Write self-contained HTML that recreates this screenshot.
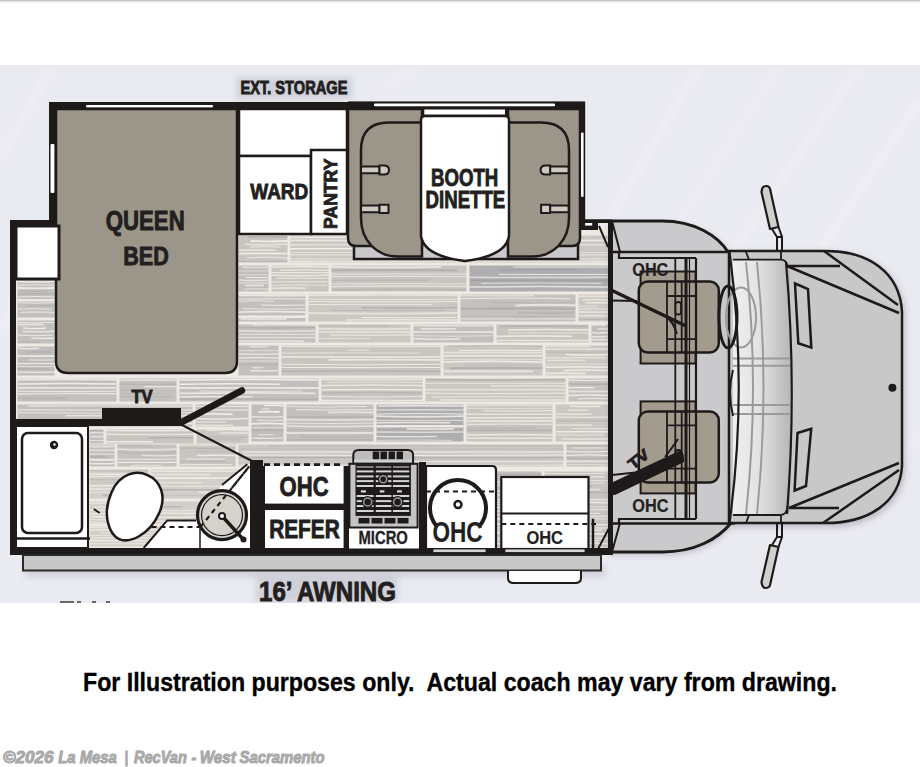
<!DOCTYPE html>
<html><head><meta charset="utf-8">
<style>
html,body{margin:0;padding:0;background:#fff;width:920px;height:767px;overflow:hidden}
svg{display:block}
text{font-family:"Liberation Sans",sans-serif;font-weight:bold}
.wm text{font-size:17px;font-style:italic;fill:#aaaaaa;stroke:#9c9c9c;stroke-width:0.9;paint-order:stroke}
.lb{fill:#231f20;stroke:#231f20;stroke-width:0.9;paint-order:stroke}
</style></head>
<body>
<svg width="920" height="767" viewBox="0 0 920 767">
<defs>
  <filter id="grain" x="0" y="0" width="100%" height="100%">
    <feTurbulence type="fractalNoise" baseFrequency="0.004 0.22" numOctaves="3" seed="7" result="n"/>
    <feColorMatrix in="n" type="matrix" values="0 0 0 0 0.78  0 0 0 0 0.76  0 0 0 0 0.74  2.2 0 0 0 -0.9" result="c"/>
    <feComposite in="c" in2="SourceGraphic" operator="in"/>
  </filter>
  <filter id="sh" x="-5%" y="-5%" width="110%" height="110%">
    <feGaussianBlur stdDeviation="4"/>
  </filter>
  <filter id="ds" x="-10%" y="-10%" width="120%" height="130%">
    <feDropShadow dx="2" dy="3" stdDeviation="3" flood-color="#505060" flood-opacity="0.3"/>
  </filter>
  <filter id="bl3" x="-20%" y="-50%" width="140%" height="200%">
    <feGaussianBlur stdDeviation="3"/>
  </filter>
</defs>

<!-- top grey line -->
<rect x="0" y="0" width="920" height="1" fill="#c4c4c4"/><rect x="0" y="1" width="920" height="1.5" fill="#e8e8e8"/>
<!-- lavender background -->
<rect x="0" y="65" width="920" height="538" fill="#eaeaf1"/>
<g stroke="#ffffff" fill="none" filter="url(#bl3)" opacity="0.2">
  <path d="M560 300 L700 65" stroke-width="7"/>
  <path d="M610 330 L780 65" stroke-width="4"/>
  <path d="M700 300 L860 65" stroke-width="6"/>
  <path d="M820 250 L920 100" stroke-width="8"/>
  <path d="M860 520 L920 430" stroke-width="6"/>
  <path d="M0 330 L60 230" stroke-width="8"/>
  <path d="M0 160 L50 70" stroke-width="6"/>
  <path d="M380 90 L420 65" stroke-width="5"/>
</g>
<!-- soft shadows -->
<g fill="#9090a0" opacity="0.28" filter="url(#bl3)">
  <rect x="236" y="77" width="116" height="22"/>
  <rect x="25" y="565" width="580" height="12"/>
  <rect x="256" y="577" width="142" height="25"/>
</g>

<!-- ===== FLOOR ===== -->
<g id="floor">
  <rect x="16" y="226" width="594" height="323" fill="#eee9e2"/>
<rect x="17.5" y="280.5" width="37.0" height="37.0" fill="#c2c0bf"/>
<path d="M17.5 281.4 Q36.0 282.4 54.5 281.4" stroke="#f0ece6" stroke-width="1.5" opacity="0.98" fill="none"/>
<path d="M17.5 285.1 Q36.0 284.4 54.5 285.1" stroke="#f0ece6" stroke-width="1.2" opacity="0.81" fill="none"/>
<path d="M17.5 288.0 Q36.0 288.9 54.5 288.0" stroke="#f0ece6" stroke-width="1.8" opacity="0.93" fill="none"/>
<path d="M17.5 291.3 Q33.1 291.6 48.7 291.3" stroke="#8e8c8c" stroke-width="1.2" opacity="0.19" fill="none"/>
<path d="M17.5 294.0 Q36.0 293.0 54.5 294.0" stroke="#8e8c8c" stroke-width="1.2" opacity="0.37" fill="none"/>
<path d="M17.5 296.9 Q36.0 296.1 54.5 296.9" stroke="#f0ece6" stroke-width="1.0" opacity="0.90" fill="none"/>
<path d="M17.9 299.8 Q36.2 300.5 54.5 299.8" stroke="#f0ece6" stroke-width="1.2" opacity="0.99" fill="none"/>
<path d="M17.5 302.8 Q36.0 303.6 54.5 302.8" stroke="#f0ece6" stroke-width="1.0" opacity="0.90" fill="none"/>
<path d="M26.1 305.8 Q40.3 305.3 54.5 305.8" stroke="#8e8c8c" stroke-width="1.5" opacity="0.21" fill="none"/>
<path d="M17.5 309.2 Q34.6 308.2 51.8 309.2" stroke="#f0ece6" stroke-width="1.0" opacity="0.83" fill="none"/>
<path d="M20.3 312.4 Q37.4 311.4 54.5 312.4" stroke="#f0ece6" stroke-width="1.5" opacity="0.68" fill="none"/>
<rect x="17.5" y="320.5" width="37.0" height="23.0" fill="#c2c0bf"/>
<path d="M17.5 322.4 Q36.0 323.4 54.5 322.4" stroke="#f0ece6" stroke-width="1.0" opacity="0.86" fill="none"/>
<path d="M17.5 324.6 Q30.8 324.4 44.1 324.6" stroke="#f0ece6" stroke-width="1.8" opacity="0.72" fill="none"/>
<path d="M23.0 327.9 Q34.5 329.1 46.1 327.9" stroke="#f0ece6" stroke-width="1.5" opacity="0.95" fill="none"/>
<path d="M22.6 331.3 Q38.5 332.1 54.5 331.3" stroke="#f0ece6" stroke-width="1.8" opacity="0.76" fill="none"/>
<path d="M17.5 335.2 Q35.2 336.1 52.9 335.2" stroke="#f0ece6" stroke-width="1.2" opacity="0.82" fill="none"/>
<path d="M31.6 338.2 Q43.0 338.1 54.5 338.2" stroke="#f0ece6" stroke-width="1.5" opacity="0.88" fill="none"/>
<path d="M17.5 342.1 Q28.1 341.7 38.7 342.1" stroke="#8e8c8c" stroke-width="1.4" opacity="0.24" fill="none"/>
<rect x="17.5" y="346.5" width="37.0" height="29.0" fill="#c0bebc"/>
<path d="M17.5 348.2 Q28.3 349.1 39.2 348.2" stroke="#f0ece6" stroke-width="1.5" opacity="0.88" fill="none"/>
<path d="M27.3 352.0 Q39.4 352.0 51.4 352.0" stroke="#8e8c8c" stroke-width="1.5" opacity="0.28" fill="none"/>
<path d="M17.5 355.8 Q36.0 356.5 54.5 355.8" stroke="#f0ece6" stroke-width="1.8" opacity="0.92" fill="none"/>
<path d="M29.0 359.9 Q41.8 360.4 54.5 359.9" stroke="#f0ece6" stroke-width="1.0" opacity="0.86" fill="none"/>
<path d="M17.5 363.6 Q36.0 363.4 54.5 363.6" stroke="#f0ece6" stroke-width="1.2" opacity="0.96" fill="none"/>
<path d="M17.5 366.6 Q36.0 366.4 54.5 366.6" stroke="#f0ece6" stroke-width="1.0" opacity="0.73" fill="none"/>
<path d="M17.5 369.0 Q33.3 368.5 49.0 369.0" stroke="#8e8c8c" stroke-width="1.5" opacity="0.29" fill="none"/>
<path d="M17.5 372.2 Q36.0 372.4 54.5 372.2" stroke="#f0ece6" stroke-width="1.2" opacity="0.93" fill="none"/>
<rect x="238.5" y="235.5" width="49.0" height="27.0" fill="#c8c5c1"/>
<path d="M247.9 236.9 Q267.7 236.5 287.5 236.9" stroke="#8e8c8c" stroke-width="1.5" opacity="0.32" fill="none"/>
<path d="M250.6 241.0 Q269.0 241.9 287.5 241.0" stroke="#f0ece6" stroke-width="1.8" opacity="0.99" fill="none"/>
<path d="M244.7 244.3 Q266.1 245.3 287.5 244.3" stroke="#f0ece6" stroke-width="1.5" opacity="0.76" fill="none"/>
<path d="M249.4 247.2 Q264.8 246.0 280.3 247.2" stroke="#f0ece6" stroke-width="1.0" opacity="0.87" fill="none"/>
<path d="M239.4 250.3 Q257.4 249.7 275.5 250.3" stroke="#f0ece6" stroke-width="1.5" opacity="0.82" fill="none"/>
<path d="M238.5 253.7 Q263.0 253.2 287.5 253.7" stroke="#f0ece6" stroke-width="1.8" opacity="0.95" fill="none"/>
<path d="M247.1 257.9 Q267.3 256.7 287.5 257.9" stroke="#f0ece6" stroke-width="1.5" opacity="0.66" fill="none"/>
<path d="M238.5 261.5 Q263.0 262.0 287.5 261.5" stroke="#8e8c8c" stroke-width="1.0" opacity="0.29" fill="none"/>
<rect x="290.5" y="235.5" width="318.0" height="27.0" fill="#cbc7c3"/>
<path d="M290.5 237.3 Q378.0 236.8 465.6 237.3" stroke="#f0ece6" stroke-width="1.8" opacity="0.89" fill="none"/>
<path d="M290.5 240.3 Q449.5 241.2 608.5 240.3" stroke="#f0ece6" stroke-width="1.8" opacity="0.88" fill="none"/>
<path d="M290.5 244.8 Q449.5 243.8 608.5 244.8" stroke="#f0ece6" stroke-width="1.2" opacity="0.84" fill="none"/>
<path d="M290.5 248.8 Q393.8 248.1 497.0 248.8" stroke="#f0ece6" stroke-width="1.5" opacity="0.99" fill="none"/>
<path d="M290.5 252.5 Q449.5 252.3 608.5 252.5" stroke="#f0ece6" stroke-width="1.0" opacity="0.70" fill="none"/>
<path d="M290.5 254.9 Q449.5 255.5 608.5 254.9" stroke="#f0ece6" stroke-width="1.2" opacity="0.69" fill="none"/>
<path d="M290.5 258.8 Q449.5 259.7 608.5 258.8" stroke="#f0ece6" stroke-width="1.2" opacity="0.68" fill="none"/>
<path d="M290.5 261.4 Q449.5 260.8 608.5 261.4" stroke="#f0ece6" stroke-width="1.1" opacity="0.87" fill="none"/>
<rect x="238.5" y="265.5" width="30.0" height="26.0" fill="#c0bebc"/>
<path d="M242.0 267.2 Q255.3 267.8 268.5 267.2" stroke="#f0ece6" stroke-width="1.5" opacity="0.70" fill="none"/>
<path d="M238.5 271.0 Q253.5 270.9 268.5 271.0" stroke="#f0ece6" stroke-width="1.0" opacity="0.66" fill="none"/>
<path d="M238.5 274.7 Q253.1 275.2 267.7 274.7" stroke="#f0ece6" stroke-width="1.0" opacity="0.66" fill="none"/>
<path d="M245.9 277.3 Q257.2 278.1 268.5 277.3" stroke="#f0ece6" stroke-width="1.0" opacity="0.97" fill="none"/>
<path d="M238.5 280.0 Q253.5 281.1 268.5 280.0" stroke="#f0ece6" stroke-width="1.5" opacity="0.78" fill="none"/>
<path d="M238.5 283.2 Q253.5 282.5 268.5 283.2" stroke="#f0ece6" stroke-width="1.0" opacity="0.85" fill="none"/>
<path d="M244.9 285.5 Q254.4 285.1 264.0 285.5" stroke="#f0ece6" stroke-width="1.8" opacity="0.77" fill="none"/>
<path d="M244.1 289.2 Q256.3 288.7 268.5 289.2" stroke="#f0ece6" stroke-width="1.2" opacity="0.71" fill="none"/>
<rect x="271.5" y="265.5" width="57.0" height="26.0" fill="#c8c5c1"/>
<path d="M271.5 267.1 Q300.0 266.0 328.5 267.1" stroke="#f0ece6" stroke-width="1.2" opacity="0.96" fill="none"/>
<path d="M279.8 270.3 Q304.1 269.5 328.5 270.3" stroke="#f0ece6" stroke-width="1.2" opacity="0.88" fill="none"/>
<path d="M271.5 272.7 Q300.0 272.4 328.5 272.7" stroke="#f0ece6" stroke-width="1.2" opacity="0.87" fill="none"/>
<path d="M271.5 275.2 Q300.0 276.3 328.5 275.2" stroke="#f0ece6" stroke-width="1.8" opacity="0.73" fill="none"/>
<path d="M276.3 278.2 Q301.9 278.4 327.6 278.2" stroke="#f0ece6" stroke-width="1.0" opacity="0.89" fill="none"/>
<path d="M271.5 281.9 Q300.0 281.9 328.5 281.9" stroke="#f0ece6" stroke-width="1.0" opacity="0.93" fill="none"/>
<path d="M271.5 285.4 Q299.3 284.6 327.0 285.4" stroke="#f0ece6" stroke-width="1.0" opacity="0.79" fill="none"/>
<path d="M271.5 288.4 Q288.7 287.6 306.0 288.4" stroke="#f0ece6" stroke-width="1.8" opacity="0.73" fill="none"/>
<rect x="331.5" y="265.5" width="135.0" height="26.0" fill="#c8c5c1"/>
<path d="M331.5 266.9 Q386.3 267.9 441.1 266.9" stroke="#f0ece6" stroke-width="1.8" opacity="0.82" fill="none"/>
<path d="M331.5 270.4 Q394.3 269.9 457.1 270.4" stroke="#8e8c8c" stroke-width="1.8" opacity="0.40" fill="none"/>
<path d="M331.5 274.1 Q399.0 273.5 466.5 274.1" stroke="#f0ece6" stroke-width="1.2" opacity="0.68" fill="none"/>
<path d="M331.5 276.6 Q399.0 276.1 466.5 276.6" stroke="#f0ece6" stroke-width="1.2" opacity="0.72" fill="none"/>
<path d="M331.5 280.2 Q379.6 280.5 427.7 280.2" stroke="#8e8c8c" stroke-width="1.0" opacity="0.31" fill="none"/>
<path d="M331.5 283.9 Q399.0 283.1 466.5 283.9" stroke="#f0ece6" stroke-width="1.0" opacity="0.74" fill="none"/>
<path d="M331.5 286.5 Q399.0 285.6 466.5 286.5" stroke="#f0ece6" stroke-width="1.5" opacity="0.67" fill="none"/>
<path d="M331.5 289.8 Q399.0 288.6 466.5 289.8" stroke="#8e8c8c" stroke-width="1.5" opacity="0.30" fill="none"/>
<rect x="469.5" y="265.5" width="139.0" height="26.0" fill="#aeadb0"/>
<path d="M513.3 267.1 Q560.9 266.9 608.5 267.1" stroke="#f0ece6" stroke-width="1.0" opacity="0.86" fill="none"/>
<path d="M499.7 269.8 Q538.7 269.9 577.8 269.8" stroke="#8e8c8c" stroke-width="1.8" opacity="0.27" fill="none"/>
<path d="M498.7 274.4 Q553.6 274.6 608.5 274.4" stroke="#f0ece6" stroke-width="1.0" opacity="0.93" fill="none"/>
<path d="M469.5 277.3 Q539.0 277.9 608.5 277.3" stroke="#f0ece6" stroke-width="1.5" opacity="0.73" fill="none"/>
<path d="M469.5 280.4 Q539.0 280.1 608.5 280.4" stroke="#8e8c8c" stroke-width="1.5" opacity="0.35" fill="none"/>
<path d="M481.3 283.4 Q541.5 282.6 601.6 283.4" stroke="#f0ece6" stroke-width="1.2" opacity="0.66" fill="none"/>
<path d="M469.5 287.0 Q539.0 286.1 608.5 287.0" stroke="#f0ece6" stroke-width="1.5" opacity="0.81" fill="none"/>
<rect x="238.5" y="294.5" width="67.0" height="27.0" fill="#c2c0bf"/>
<path d="M238.5 295.3 Q272.0 295.7 305.5 295.3" stroke="#f0ece6" stroke-width="1.8" opacity="0.89" fill="none"/>
<path d="M238.5 299.0 Q272.0 298.5 305.5 299.0" stroke="#f0ece6" stroke-width="1.0" opacity="0.93" fill="none"/>
<path d="M238.5 301.3 Q256.2 300.2 274.0 301.3" stroke="#f0ece6" stroke-width="1.0" opacity="0.86" fill="none"/>
<path d="M260.9 305.0 Q283.2 305.8 305.5 305.0" stroke="#f0ece6" stroke-width="1.2" opacity="0.91" fill="none"/>
<path d="M242.6 308.6 Q274.0 309.7 305.5 308.6" stroke="#f0ece6" stroke-width="1.2" opacity="0.68" fill="none"/>
<path d="M238.5 312.1 Q272.0 311.1 305.5 312.1" stroke="#f0ece6" stroke-width="1.8" opacity="0.88" fill="none"/>
<path d="M248.3 316.2 Q276.9 317.2 305.5 316.2" stroke="#f0ece6" stroke-width="1.5" opacity="0.69" fill="none"/>
<path d="M240.6 319.0 Q263.6 319.5 286.5 319.0" stroke="#f0ece6" stroke-width="1.8" opacity="0.73" fill="none"/>
<rect x="308.5" y="294.5" width="149.0" height="27.0" fill="#cbc7c3"/>
<path d="M308.5 295.7 Q383.0 294.8 457.5 295.7" stroke="#f0ece6" stroke-width="1.2" opacity="0.75" fill="none"/>
<path d="M308.5 299.0 Q383.0 300.1 457.5 299.0" stroke="#f0ece6" stroke-width="1.2" opacity="0.76" fill="none"/>
<path d="M308.5 301.6 Q383.0 302.5 457.5 301.6" stroke="#f0ece6" stroke-width="1.0" opacity="0.95" fill="none"/>
<path d="M308.5 304.6 Q370.5 304.8 432.5 304.6" stroke="#f0ece6" stroke-width="1.0" opacity="0.89" fill="none"/>
<path d="M361.6 307.5 Q409.6 308.6 457.5 307.5" stroke="#8e8c8c" stroke-width="1.5" opacity="0.35" fill="none"/>
<path d="M332.7 310.4 Q388.6 311.0 444.6 310.4" stroke="#8e8c8c" stroke-width="1.0" opacity="0.20" fill="none"/>
<path d="M308.5 313.0 Q383.0 314.1 457.5 313.0" stroke="#f0ece6" stroke-width="1.8" opacity="0.69" fill="none"/>
<path d="M361.6 317.5 Q408.9 318.1 456.3 317.5" stroke="#f0ece6" stroke-width="1.0" opacity="0.98" fill="none"/>
<path d="M345.7 320.0 Q401.6 319.5 457.5 320.0" stroke="#f0ece6" stroke-width="1.5" opacity="0.75" fill="none"/>
<rect x="460.5" y="294.5" width="115.0" height="27.0" fill="#c4c1be"/>
<path d="M460.5 295.8 Q497.3 295.9 534.1 295.8" stroke="#f0ece6" stroke-width="1.0" opacity="1.00" fill="none"/>
<path d="M460.5 298.7 Q515.4 297.5 570.2 298.7" stroke="#f0ece6" stroke-width="1.2" opacity="0.79" fill="none"/>
<path d="M492.8 302.3 Q534.2 303.4 575.5 302.3" stroke="#8e8c8c" stroke-width="1.5" opacity="0.16" fill="none"/>
<path d="M515.5 305.3 Q545.5 304.2 575.5 305.3" stroke="#f0ece6" stroke-width="1.8" opacity="0.83" fill="none"/>
<path d="M460.5 308.6 Q518.0 308.4 575.5 308.6" stroke="#8e8c8c" stroke-width="1.8" opacity="0.38" fill="none"/>
<path d="M517.9 312.7 Q546.7 313.4 575.5 312.7" stroke="#8e8c8c" stroke-width="1.8" opacity="0.24" fill="none"/>
<path d="M460.5 316.4 Q518.0 316.8 575.5 316.4" stroke="#8e8c8c" stroke-width="1.0" opacity="0.20" fill="none"/>
<path d="M460.5 318.8 Q518.0 319.1 575.5 318.8" stroke="#f0ece6" stroke-width="1.2" opacity="0.68" fill="none"/>
<rect x="578.5" y="294.5" width="30.0" height="27.0" fill="#cbc7c3"/>
<path d="M578.5 296.4 Q593.5 296.3 608.5 296.4" stroke="#f0ece6" stroke-width="1.8" opacity="0.73" fill="none"/>
<path d="M582.9 299.9 Q595.7 299.3 608.5 299.9" stroke="#f0ece6" stroke-width="1.5" opacity="0.73" fill="none"/>
<path d="M585.7 302.7 Q597.1 302.9 608.5 302.7" stroke="#f0ece6" stroke-width="1.8" opacity="0.78" fill="none"/>
<path d="M578.5 306.2 Q588.2 306.0 597.9 306.2" stroke="#f0ece6" stroke-width="1.0" opacity="0.70" fill="none"/>
<path d="M578.5 309.2 Q593.5 308.0 608.5 309.2" stroke="#f0ece6" stroke-width="1.2" opacity="0.67" fill="none"/>
<path d="M578.5 312.0 Q593.5 312.3 608.5 312.0" stroke="#f0ece6" stroke-width="1.8" opacity="0.69" fill="none"/>
<path d="M578.5 315.7 Q592.9 315.7 607.3 315.7" stroke="#f0ece6" stroke-width="1.8" opacity="0.71" fill="none"/>
<path d="M578.5 319.3 Q593.5 319.4 608.5 319.3" stroke="#8e8c8c" stroke-width="1.5" opacity="0.24" fill="none"/>
<rect x="238.5" y="324.5" width="77.0" height="18.0" fill="#c4c1be"/>
<path d="M252.9 325.1 Q284.2 324.2 315.5 325.1" stroke="#f0ece6" stroke-width="1.0" opacity="0.96" fill="none"/>
<path d="M238.5 327.5 Q277.0 328.4 315.5 327.5" stroke="#8e8c8c" stroke-width="1.5" opacity="0.31" fill="none"/>
<path d="M238.5 330.9 Q277.0 331.4 315.5 330.9" stroke="#f0ece6" stroke-width="1.2" opacity="0.85" fill="none"/>
<path d="M238.5 334.3 Q277.0 334.4 315.5 334.3" stroke="#f0ece6" stroke-width="1.0" opacity="0.79" fill="none"/>
<path d="M238.5 337.6 Q277.0 337.7 315.5 337.6" stroke="#f0ece6" stroke-width="1.0" opacity="0.86" fill="none"/>
<path d="M238.5 341.1 Q271.3 341.2 304.0 341.1" stroke="#f0ece6" stroke-width="1.4" opacity="0.91" fill="none"/>
<rect x="318.5" y="324.5" width="92.0" height="18.0" fill="#cbc7c3"/>
<path d="M318.5 325.6 Q354.0 325.9 389.4 325.6" stroke="#8e8c8c" stroke-width="1.2" opacity="0.23" fill="none"/>
<path d="M318.5 328.7 Q364.5 329.7 410.5 328.7" stroke="#f0ece6" stroke-width="1.8" opacity="0.70" fill="none"/>
<path d="M318.5 331.9 Q364.5 332.0 410.5 331.9" stroke="#f0ece6" stroke-width="1.5" opacity="0.83" fill="none"/>
<path d="M330.4 335.0 Q370.5 335.3 410.5 335.0" stroke="#f0ece6" stroke-width="1.5" opacity="0.69" fill="none"/>
<path d="M318.5 338.7 Q344.5 338.0 370.4 338.7" stroke="#f0ece6" stroke-width="1.0" opacity="0.69" fill="none"/>
<rect x="413.5" y="324.5" width="80.0" height="18.0" fill="#c2c0bf"/>
<path d="M413.5 325.6 Q453.5 326.1 493.5 325.6" stroke="#f0ece6" stroke-width="1.5" opacity="0.74" fill="none"/>
<path d="M420.7 328.9 Q438.2 328.9 455.8 328.9" stroke="#f0ece6" stroke-width="1.8" opacity="0.76" fill="none"/>
<path d="M413.5 332.1 Q453.5 331.7 493.5 332.1" stroke="#f0ece6" stroke-width="1.8" opacity="0.80" fill="none"/>
<path d="M413.5 335.7 Q453.5 336.8 493.5 335.7" stroke="#f0ece6" stroke-width="1.0" opacity="0.69" fill="none"/>
<path d="M413.5 338.7 Q437.1 339.9 460.7 338.7" stroke="#f0ece6" stroke-width="1.8" opacity="0.76" fill="none"/>
<rect x="496.5" y="324.5" width="92.0" height="18.0" fill="#c8c5c1"/>
<path d="M499.8 326.4 Q544.1 325.9 588.5 326.4" stroke="#8e8c8c" stroke-width="1.5" opacity="0.33" fill="none"/>
<path d="M508.3 330.0 Q548.4 329.1 588.5 330.0" stroke="#f0ece6" stroke-width="1.5" opacity="0.91" fill="none"/>
<path d="M508.0 333.0 Q548.2 332.9 588.5 333.0" stroke="#f0ece6" stroke-width="1.0" opacity="0.73" fill="none"/>
<path d="M496.5 336.3 Q534.3 335.4 572.1 336.3" stroke="#f0ece6" stroke-width="1.8" opacity="0.85" fill="none"/>
<path d="M496.5 340.5 Q542.5 340.7 588.5 340.5" stroke="#f0ece6" stroke-width="1.5" opacity="0.82" fill="none"/>
<rect x="591.5" y="324.5" width="17.0" height="18.0" fill="#c0bebc"/>
<path d="M591.5 325.2 Q598.8 324.1 606.0 325.2" stroke="#f0ece6" stroke-width="1.8" opacity="0.78" fill="none"/>
<path d="M597.1 329.0 Q602.8 328.6 608.5 329.0" stroke="#f0ece6" stroke-width="1.2" opacity="0.95" fill="none"/>
<path d="M591.5 332.6 Q600.0 333.2 608.5 332.6" stroke="#f0ece6" stroke-width="1.5" opacity="0.87" fill="none"/>
<path d="M591.5 336.5 Q599.5 337.3 607.5 336.5" stroke="#f0ece6" stroke-width="1.5" opacity="0.84" fill="none"/>
<path d="M591.5 339.6 Q600.0 339.9 608.5 339.6" stroke="#f0ece6" stroke-width="1.8" opacity="0.78" fill="none"/>
<rect x="238.5" y="345.5" width="40.0" height="30.0" fill="#c2c0bf"/>
<path d="M249.7 346.6 Q258.6 347.1 267.5 346.6" stroke="#f0ece6" stroke-width="1.5" opacity="0.68" fill="none"/>
<path d="M238.5 350.7 Q258.5 350.5 278.5 350.7" stroke="#f0ece6" stroke-width="1.0" opacity="0.67" fill="none"/>
<path d="M238.5 354.2 Q258.5 354.5 278.5 354.2" stroke="#f0ece6" stroke-width="1.8" opacity="0.68" fill="none"/>
<path d="M238.5 358.1 Q258.5 357.2 278.5 358.1" stroke="#f0ece6" stroke-width="1.2" opacity="0.96" fill="none"/>
<path d="M238.5 361.1 Q257.9 360.9 277.3 361.1" stroke="#f0ece6" stroke-width="1.0" opacity="0.79" fill="none"/>
<path d="M238.5 364.6 Q258.5 363.4 278.5 364.6" stroke="#8e8c8c" stroke-width="1.0" opacity="0.32" fill="none"/>
<path d="M252.2 367.5 Q257.7 368.2 263.2 367.5" stroke="#f0ece6" stroke-width="1.2" opacity="0.95" fill="none"/>
<path d="M250.1 370.6 Q264.3 371.3 278.5 370.6" stroke="#f0ece6" stroke-width="1.8" opacity="0.72" fill="none"/>
<rect x="281.5" y="345.5" width="159.0" height="30.0" fill="#c8c5c1"/>
<path d="M281.5 346.5 Q361.0 347.0 440.5 346.5" stroke="#f0ece6" stroke-width="1.0" opacity="0.80" fill="none"/>
<path d="M347.4 350.3 Q358.2 350.2 369.1 350.3" stroke="#f0ece6" stroke-width="1.0" opacity="0.81" fill="none"/>
<path d="M281.5 353.1 Q350.5 352.6 419.5 353.1" stroke="#f0ece6" stroke-width="1.0" opacity="0.78" fill="none"/>
<path d="M281.5 356.8 Q361.0 357.6 440.5 356.8" stroke="#f0ece6" stroke-width="1.8" opacity="0.80" fill="none"/>
<path d="M328.8 359.9 Q384.6 359.5 440.5 359.9" stroke="#f0ece6" stroke-width="1.8" opacity="0.88" fill="none"/>
<path d="M281.5 364.3 Q361.0 365.3 440.5 364.3" stroke="#f0ece6" stroke-width="1.0" opacity="0.89" fill="none"/>
<path d="M281.5 367.5 Q361.0 367.7 440.5 367.5" stroke="#f0ece6" stroke-width="1.0" opacity="0.96" fill="none"/>
<path d="M281.5 371.3 Q361.0 370.4 440.5 371.3" stroke="#8e8c8c" stroke-width="1.2" opacity="0.36" fill="none"/>
<rect x="443.5" y="345.5" width="99.0" height="30.0" fill="#cbc7c3"/>
<path d="M448.6 346.1 Q495.6 345.0 542.5 346.1" stroke="#8e8c8c" stroke-width="1.5" opacity="0.24" fill="none"/>
<path d="M458.8 350.4 Q500.7 350.4 542.5 350.4" stroke="#f0ece6" stroke-width="1.0" opacity="0.96" fill="none"/>
<path d="M443.5 352.7 Q493.0 352.3 542.5 352.7" stroke="#f0ece6" stroke-width="1.8" opacity="0.72" fill="none"/>
<path d="M443.5 355.8 Q493.0 355.9 542.5 355.8" stroke="#f0ece6" stroke-width="1.5" opacity="0.98" fill="none"/>
<path d="M443.5 359.4 Q493.0 359.3 542.5 359.4" stroke="#f0ece6" stroke-width="1.0" opacity="0.68" fill="none"/>
<path d="M443.5 361.9 Q493.0 360.8 542.5 361.9" stroke="#f0ece6" stroke-width="1.5" opacity="1.00" fill="none"/>
<path d="M465.2 365.2 Q503.8 365.5 542.5 365.2" stroke="#8e8c8c" stroke-width="1.5" opacity="0.17" fill="none"/>
<path d="M449.9 368.1 Q496.2 367.5 542.5 368.1" stroke="#8e8c8c" stroke-width="1.8" opacity="0.40" fill="none"/>
<path d="M443.5 371.3 Q488.2 371.4 532.9 371.3" stroke="#f0ece6" stroke-width="1.8" opacity="0.89" fill="none"/>
<rect x="545.5" y="345.5" width="63.0" height="30.0" fill="#cbc7c3"/>
<path d="M545.5 346.1 Q567.9 346.7 590.2 346.1" stroke="#f0ece6" stroke-width="1.2" opacity="0.74" fill="none"/>
<path d="M545.5 348.9 Q577.0 348.9 608.5 348.9" stroke="#f0ece6" stroke-width="1.5" opacity="0.77" fill="none"/>
<path d="M545.5 352.0 Q577.0 352.6 608.5 352.0" stroke="#8e8c8c" stroke-width="1.2" opacity="0.23" fill="none"/>
<path d="M565.5 354.5 Q587.0 355.6 608.5 354.5" stroke="#f0ece6" stroke-width="1.5" opacity="0.96" fill="none"/>
<path d="M545.5 357.8 Q576.0 357.8 606.4 357.8" stroke="#f0ece6" stroke-width="1.5" opacity="0.71" fill="none"/>
<path d="M547.2 360.5 Q566.1 359.8 585.0 360.5" stroke="#f0ece6" stroke-width="1.5" opacity="0.73" fill="none"/>
<path d="M545.5 364.3 Q577.0 363.7 608.5 364.3" stroke="#f0ece6" stroke-width="1.0" opacity="0.66" fill="none"/>
<path d="M545.5 367.1 Q577.0 366.5 608.5 367.1" stroke="#f0ece6" stroke-width="1.8" opacity="0.89" fill="none"/>
<path d="M564.1 370.4 Q586.3 369.4 608.5 370.4" stroke="#f0ece6" stroke-width="1.5" opacity="0.89" fill="none"/>
<path d="M545.5 373.5 Q565.5 372.6 585.5 373.5" stroke="#f0ece6" stroke-width="1.8" opacity="0.85" fill="none"/>
<rect x="17.5" y="378.5" width="99.0" height="23.0" fill="#c2c0bf"/>
<path d="M17.5 379.7 Q67.0 378.8 116.5 379.7" stroke="#f0ece6" stroke-width="1.8" opacity="0.89" fill="none"/>
<path d="M17.5 383.9 Q67.0 383.1 116.5 383.9" stroke="#f0ece6" stroke-width="1.5" opacity="0.98" fill="none"/>
<path d="M17.5 387.9 Q67.0 388.0 116.5 387.9" stroke="#f0ece6" stroke-width="1.8" opacity="0.81" fill="none"/>
<path d="M17.5 391.2 Q67.0 391.7 116.5 391.2" stroke="#f0ece6" stroke-width="1.0" opacity="0.94" fill="none"/>
<path d="M17.5 393.8 Q67.0 393.3 116.5 393.8" stroke="#f0ece6" stroke-width="1.5" opacity="0.77" fill="none"/>
<path d="M17.5 398.0 Q42.8 399.1 68.0 398.0" stroke="#8e8c8c" stroke-width="1.8" opacity="0.17" fill="none"/>
<rect x="119.5" y="378.5" width="57.0" height="23.0" fill="#c4c1be"/>
<path d="M119.5 380.2 Q148.0 379.8 176.5 380.2" stroke="#f0ece6" stroke-width="1.8" opacity="0.67" fill="none"/>
<path d="M119.5 384.1 Q148.0 384.4 176.5 384.1" stroke="#8e8c8c" stroke-width="1.2" opacity="0.33" fill="none"/>
<path d="M143.7 386.6 Q160.1 386.6 176.5 386.6" stroke="#f0ece6" stroke-width="1.2" opacity="0.82" fill="none"/>
<path d="M119.5 390.0 Q134.4 390.4 149.2 390.0" stroke="#8e8c8c" stroke-width="1.2" opacity="0.23" fill="none"/>
<path d="M119.5 393.3 Q139.2 394.0 159.0 393.3" stroke="#8e8c8c" stroke-width="1.0" opacity="0.19" fill="none"/>
<path d="M119.5 396.8 Q146.3 396.7 173.1 396.8" stroke="#8e8c8c" stroke-width="1.0" opacity="0.26" fill="none"/>
<rect x="179.5" y="378.5" width="139.0" height="23.0" fill="#c2c0bf"/>
<path d="M179.5 380.0 Q249.0 378.9 318.5 380.0" stroke="#f0ece6" stroke-width="1.5" opacity="0.99" fill="none"/>
<path d="M179.5 384.2 Q229.9 383.5 280.4 384.2" stroke="#f0ece6" stroke-width="1.5" opacity="1.00" fill="none"/>
<path d="M179.5 388.0 Q249.0 387.6 318.5 388.0" stroke="#f0ece6" stroke-width="1.8" opacity="0.85" fill="none"/>
<path d="M199.4 391.0 Q250.8 392.1 302.2 391.0" stroke="#f0ece6" stroke-width="1.0" opacity="0.73" fill="none"/>
<path d="M179.5 393.3 Q247.5 392.4 315.5 393.3" stroke="#f0ece6" stroke-width="1.8" opacity="0.84" fill="none"/>
<path d="M179.5 396.8 Q216.1 396.6 252.7 396.8" stroke="#f0ece6" stroke-width="1.2" opacity="0.96" fill="none"/>
<path d="M179.5 399.2 Q249.0 399.4 318.5 399.2" stroke="#8e8c8c" stroke-width="1.5" opacity="0.28" fill="none"/>
<rect x="321.5" y="378.5" width="101.0" height="23.0" fill="#c8c5c1"/>
<path d="M321.5 379.5 Q371.8 380.7 422.1 379.5" stroke="#f0ece6" stroke-width="1.5" opacity="0.80" fill="none"/>
<path d="M326.8 382.4 Q374.6 382.5 422.5 382.4" stroke="#f0ece6" stroke-width="1.0" opacity="0.80" fill="none"/>
<path d="M321.5 385.7 Q372.0 384.5 422.5 385.7" stroke="#f0ece6" stroke-width="1.8" opacity="0.78" fill="none"/>
<path d="M321.5 389.8 Q372.0 389.2 422.5 389.8" stroke="#f0ece6" stroke-width="1.5" opacity="0.96" fill="none"/>
<path d="M321.5 392.9 Q372.0 392.2 422.5 392.9" stroke="#8e8c8c" stroke-width="1.5" opacity="0.26" fill="none"/>
<path d="M321.5 396.4 Q372.0 397.4 422.5 396.4" stroke="#f0ece6" stroke-width="1.2" opacity="0.73" fill="none"/>
<path d="M321.5 400.3 Q372.0 400.2 422.5 400.3" stroke="#f0ece6" stroke-width="1.2" opacity="0.95" fill="none"/>
<rect x="425.5" y="378.5" width="140.0" height="23.0" fill="#cbc7c3"/>
<path d="M425.5 379.5 Q495.5 380.5 565.5 379.5" stroke="#8e8c8c" stroke-width="1.5" opacity="0.38" fill="none"/>
<path d="M425.5 383.3 Q495.5 383.5 565.5 383.3" stroke="#f0ece6" stroke-width="1.0" opacity="0.78" fill="none"/>
<path d="M490.8 386.1 Q528.1 385.4 565.5 386.1" stroke="#f0ece6" stroke-width="1.2" opacity="0.91" fill="none"/>
<path d="M425.5 389.7 Q495.5 389.4 565.5 389.7" stroke="#f0ece6" stroke-width="1.8" opacity="0.69" fill="none"/>
<path d="M425.5 393.2 Q495.5 394.2 565.5 393.2" stroke="#f0ece6" stroke-width="1.2" opacity="0.79" fill="none"/>
<path d="M431.6 397.1 Q498.5 396.3 565.5 397.1" stroke="#f0ece6" stroke-width="1.0" opacity="0.76" fill="none"/>
<path d="M439.3 399.8 Q502.4 400.2 565.5 399.8" stroke="#f0ece6" stroke-width="1.7" opacity="0.71" fill="none"/>
<rect x="568.5" y="378.5" width="40.0" height="23.0" fill="#c4c1be"/>
<path d="M568.5 380.2 Q588.5 380.8 608.5 380.2" stroke="#f0ece6" stroke-width="1.2" opacity="0.91" fill="none"/>
<path d="M568.5 383.9 Q588.5 384.6 608.5 383.9" stroke="#8e8c8c" stroke-width="1.5" opacity="0.32" fill="none"/>
<path d="M568.5 387.7 Q581.4 387.2 594.3 387.7" stroke="#f0ece6" stroke-width="1.5" opacity="0.96" fill="none"/>
<path d="M568.5 391.4 Q588.5 391.6 608.5 391.4" stroke="#f0ece6" stroke-width="1.8" opacity="0.74" fill="none"/>
<path d="M568.5 395.5 Q588.5 394.5 608.5 395.5" stroke="#f0ece6" stroke-width="1.5" opacity="0.93" fill="none"/>
<path d="M577.9 398.8 Q593.2 397.9 608.5 398.8" stroke="#f0ece6" stroke-width="1.2" opacity="0.80" fill="none"/>
<rect x="17.5" y="404.5" width="175.0" height="22.0" fill="#c2c0bf"/>
<path d="M27.5 406.2 Q110.0 405.3 192.5 406.2" stroke="#f0ece6" stroke-width="1.2" opacity="0.85" fill="none"/>
<path d="M17.5 409.9 Q105.0 410.4 192.5 409.9" stroke="#f0ece6" stroke-width="1.2" opacity="0.79" fill="none"/>
<path d="M17.5 412.7 Q105.0 413.7 192.5 412.7" stroke="#f0ece6" stroke-width="1.0" opacity="0.83" fill="none"/>
<path d="M65.5 415.7 Q129.0 415.7 192.5 415.7" stroke="#f0ece6" stroke-width="1.8" opacity="0.73" fill="none"/>
<path d="M17.5 419.8 Q72.1 420.0 126.6 419.8" stroke="#f0ece6" stroke-width="1.8" opacity="0.70" fill="none"/>
<path d="M46.1 423.5 Q119.3 423.3 192.5 423.5" stroke="#f0ece6" stroke-width="1.8" opacity="0.94" fill="none"/>
<rect x="195.5" y="404.5" width="53.0" height="22.0" fill="#c4c1be"/>
<path d="M195.5 406.4 Q222.0 406.8 248.5 406.4" stroke="#f0ece6" stroke-width="1.0" opacity="0.93" fill="none"/>
<path d="M195.5 410.2 Q222.0 409.2 248.5 410.2" stroke="#f0ece6" stroke-width="1.5" opacity="0.68" fill="none"/>
<path d="M195.5 414.3 Q214.1 413.3 232.6 414.3" stroke="#f0ece6" stroke-width="1.8" opacity="0.94" fill="none"/>
<path d="M195.5 418.4 Q222.0 419.5 248.5 418.4" stroke="#f0ece6" stroke-width="1.5" opacity="0.91" fill="none"/>
<path d="M195.5 422.0 Q210.8 422.0 226.2 422.0" stroke="#f0ece6" stroke-width="1.2" opacity="0.80" fill="none"/>
<path d="M195.5 425.2 Q214.3 425.4 233.1 425.2" stroke="#f0ece6" stroke-width="1.3" opacity="0.89" fill="none"/>
<rect x="89.5" y="429.5" width="14.0" height="14.0" fill="#c2c0bf"/>
<path d="M89.5 430.5 Q96.5 430.4 103.5 430.5" stroke="#8e8c8c" stroke-width="1.0" opacity="0.27" fill="none"/>
<path d="M89.5 432.7 Q96.5 432.4 103.5 432.7" stroke="#f0ece6" stroke-width="1.2" opacity="0.69" fill="none"/>
<path d="M90.9 436.6 Q97.2 436.8 103.5 436.6" stroke="#f0ece6" stroke-width="1.8" opacity="0.73" fill="none"/>
<path d="M89.5 440.6 Q96.5 440.5 103.5 440.6" stroke="#f0ece6" stroke-width="1.0" opacity="0.75" fill="none"/>
<rect x="106.5" y="429.5" width="87.0" height="14.0" fill="#c8c5c1"/>
<path d="M106.5 430.6 Q150.0 430.7 193.5 430.6" stroke="#f0ece6" stroke-width="1.5" opacity="0.84" fill="none"/>
<path d="M106.5 434.3 Q150.0 434.8 193.5 434.3" stroke="#f0ece6" stroke-width="1.5" opacity="0.80" fill="none"/>
<path d="M148.8 437.9 Q171.2 437.0 193.5 437.9" stroke="#8e8c8c" stroke-width="1.5" opacity="0.35" fill="none"/>
<path d="M106.5 441.8 Q129.8 441.7 153.1 441.8" stroke="#f0ece6" stroke-width="1.5" opacity="0.95" fill="none"/>
<rect x="196.5" y="429.5" width="52.0" height="14.0" fill="#cbc7c3"/>
<path d="M206.1 430.3 Q227.3 429.1 248.5 430.3" stroke="#f0ece6" stroke-width="1.2" opacity="0.92" fill="none"/>
<path d="M219.5 433.1 Q234.0 432.7 248.5 433.1" stroke="#f0ece6" stroke-width="1.8" opacity="0.69" fill="none"/>
<path d="M208.5 436.9 Q228.5 437.1 248.5 436.9" stroke="#8e8c8c" stroke-width="1.0" opacity="0.35" fill="none"/>
<path d="M207.6 439.6 Q224.7 439.3 241.9 439.6" stroke="#8e8c8c" stroke-width="1.8" opacity="0.20" fill="none"/>
<rect x="251.5" y="404.5" width="32.0" height="37.0" fill="#c0bebc"/>
<path d="M263.9 405.8 Q273.7 404.8 283.5 405.8" stroke="#f0ece6" stroke-width="1.5" opacity="0.99" fill="none"/>
<path d="M261.9 409.1 Q265.7 408.6 269.5 409.1" stroke="#f0ece6" stroke-width="1.0" opacity="0.94" fill="none"/>
<path d="M258.6 412.0 Q269.1 411.1 279.6 412.0" stroke="#f0ece6" stroke-width="1.8" opacity="1.00" fill="none"/>
<path d="M251.5 416.6 Q267.5 417.6 283.5 416.6" stroke="#f0ece6" stroke-width="1.5" opacity="0.73" fill="none"/>
<path d="M256.8 420.2 Q270.2 420.6 283.5 420.2" stroke="#f0ece6" stroke-width="1.5" opacity="0.68" fill="none"/>
<path d="M251.5 423.9 Q267.5 422.8 283.5 423.9" stroke="#f0ece6" stroke-width="1.8" opacity="0.96" fill="none"/>
<path d="M251.5 427.7 Q267.5 427.7 283.5 427.7" stroke="#f0ece6" stroke-width="1.0" opacity="0.77" fill="none"/>
<path d="M251.5 430.6 Q267.5 430.0 283.5 430.6" stroke="#8e8c8c" stroke-width="1.5" opacity="0.24" fill="none"/>
<path d="M258.3 434.8 Q265.8 434.5 273.3 434.8" stroke="#f0ece6" stroke-width="1.2" opacity="0.71" fill="none"/>
<path d="M251.5 438.0 Q267.5 438.8 283.5 438.0" stroke="#f0ece6" stroke-width="1.2" opacity="0.93" fill="none"/>
<rect x="286.5" y="404.5" width="87.0" height="37.0" fill="#c2c0bf"/>
<path d="M286.5 406.5 Q326.7 407.5 366.8 406.5" stroke="#f0ece6" stroke-width="1.0" opacity="0.80" fill="none"/>
<path d="M296.0 409.7 Q334.7 410.2 373.5 409.7" stroke="#f0ece6" stroke-width="1.0" opacity="0.93" fill="none"/>
<path d="M327.9 412.5 Q350.7 411.6 373.5 412.5" stroke="#f0ece6" stroke-width="1.8" opacity="0.70" fill="none"/>
<path d="M286.5 416.6 Q330.0 417.4 373.5 416.6" stroke="#8e8c8c" stroke-width="1.8" opacity="0.21" fill="none"/>
<path d="M286.8 419.7 Q330.2 420.5 373.5 419.7" stroke="#f0ece6" stroke-width="1.8" opacity="0.74" fill="none"/>
<path d="M286.5 423.1 Q330.0 423.9 373.5 423.1" stroke="#f0ece6" stroke-width="1.0" opacity="0.84" fill="none"/>
<path d="M286.5 426.1 Q330.0 427.1 373.5 426.1" stroke="#f0ece6" stroke-width="1.5" opacity="0.79" fill="none"/>
<path d="M286.5 429.6 Q330.0 430.7 373.5 429.6" stroke="#8e8c8c" stroke-width="1.0" opacity="0.23" fill="none"/>
<path d="M286.5 432.9 Q330.0 433.3 373.5 432.9" stroke="#f0ece6" stroke-width="1.5" opacity="0.99" fill="none"/>
<path d="M300.1 436.6 Q336.8 437.2 373.5 436.6" stroke="#8e8c8c" stroke-width="1.5" opacity="0.15" fill="none"/>
<path d="M286.5 439.8 Q330.0 439.6 373.5 439.8" stroke="#8e8c8c" stroke-width="1.7" opacity="0.21" fill="none"/>
<rect x="376.5" y="404.5" width="87.0" height="37.0" fill="#aeadb0"/>
<path d="M378.2 406.1 Q420.8 405.2 463.5 406.1" stroke="#f0ece6" stroke-width="1.5" opacity="0.88" fill="none"/>
<path d="M376.5 410.0 Q420.0 409.7 463.5 410.0" stroke="#f0ece6" stroke-width="1.2" opacity="0.91" fill="none"/>
<path d="M376.5 414.0 Q420.0 413.0 463.5 414.0" stroke="#f0ece6" stroke-width="1.0" opacity="0.98" fill="none"/>
<path d="M376.5 416.2 Q420.0 417.3 463.5 416.2" stroke="#f0ece6" stroke-width="1.8" opacity="0.88" fill="none"/>
<path d="M376.5 420.4 Q420.0 420.6 463.5 420.4" stroke="#f0ece6" stroke-width="1.0" opacity="0.78" fill="none"/>
<path d="M376.5 422.8 Q413.4 422.3 450.3 422.8" stroke="#f0ece6" stroke-width="1.5" opacity="0.91" fill="none"/>
<path d="M376.5 426.2 Q420.0 426.0 463.5 426.2" stroke="#f0ece6" stroke-width="1.2" opacity="0.98" fill="none"/>
<path d="M406.7 428.8 Q430.3 429.6 453.9 428.8" stroke="#f0ece6" stroke-width="1.8" opacity="0.83" fill="none"/>
<path d="M376.5 432.1 Q420.0 432.4 463.5 432.1" stroke="#f0ece6" stroke-width="1.5" opacity="0.73" fill="none"/>
<path d="M376.5 436.4 Q406.6 437.3 436.8 436.4" stroke="#f0ece6" stroke-width="1.5" opacity="0.81" fill="none"/>
<path d="M376.5 440.3 Q414.2 439.7 451.9 440.3" stroke="#f0ece6" stroke-width="1.0" opacity="0.72" fill="none"/>
<rect x="466.5" y="404.5" width="86.0" height="37.0" fill="#c8c5c1"/>
<path d="M466.5 405.6 Q509.5 405.4 552.5 405.6" stroke="#f0ece6" stroke-width="1.0" opacity="0.69" fill="none"/>
<path d="M466.5 408.2 Q509.5 408.7 552.5 408.2" stroke="#f0ece6" stroke-width="1.0" opacity="0.74" fill="none"/>
<path d="M483.4 410.7 Q517.9 411.5 552.5 410.7" stroke="#f0ece6" stroke-width="1.2" opacity="0.80" fill="none"/>
<path d="M466.5 414.2 Q509.5 414.2 552.5 414.2" stroke="#f0ece6" stroke-width="1.5" opacity="0.75" fill="none"/>
<path d="M466.5 418.1 Q509.5 417.6 552.5 418.1" stroke="#f0ece6" stroke-width="1.5" opacity="0.90" fill="none"/>
<path d="M466.5 420.9 Q509.5 421.4 552.5 420.9" stroke="#f0ece6" stroke-width="1.8" opacity="0.83" fill="none"/>
<path d="M466.5 424.5 Q509.5 423.3 552.5 424.5" stroke="#f0ece6" stroke-width="1.5" opacity="0.69" fill="none"/>
<path d="M466.5 427.7 Q501.8 428.5 537.2 427.7" stroke="#8e8c8c" stroke-width="1.2" opacity="0.24" fill="none"/>
<path d="M466.5 430.3 Q509.5 430.6 552.5 430.3" stroke="#8e8c8c" stroke-width="1.8" opacity="0.31" fill="none"/>
<path d="M466.5 434.9 Q509.5 434.2 552.5 434.9" stroke="#f0ece6" stroke-width="1.5" opacity="0.93" fill="none"/>
<path d="M466.5 438.2 Q509.5 438.4 552.5 438.2" stroke="#f0ece6" stroke-width="1.8" opacity="0.76" fill="none"/>
<rect x="555.5" y="404.5" width="53.0" height="37.0" fill="#cbc7c3"/>
<path d="M570.2 406.2 Q585.5 406.7 600.7 406.2" stroke="#f0ece6" stroke-width="1.5" opacity="0.83" fill="none"/>
<path d="M567.7 409.9 Q578.0 410.7 588.2 409.9" stroke="#f0ece6" stroke-width="1.5" opacity="0.69" fill="none"/>
<path d="M555.5 414.2 Q573.6 414.1 591.8 414.2" stroke="#f0ece6" stroke-width="1.2" opacity="0.92" fill="none"/>
<path d="M555.5 417.2 Q582.0 417.3 608.5 417.2" stroke="#f0ece6" stroke-width="1.2" opacity="0.87" fill="none"/>
<path d="M555.5 420.7 Q582.0 420.7 608.5 420.7" stroke="#8e8c8c" stroke-width="1.8" opacity="0.23" fill="none"/>
<path d="M555.5 424.9 Q573.5 424.9 591.6 424.9" stroke="#f0ece6" stroke-width="1.5" opacity="0.77" fill="none"/>
<path d="M572.4 428.5 Q589.8 429.0 607.2 428.5" stroke="#f0ece6" stroke-width="1.2" opacity="0.88" fill="none"/>
<path d="M555.5 431.7 Q582.0 431.6 608.5 431.7" stroke="#f0ece6" stroke-width="1.5" opacity="0.97" fill="none"/>
<path d="M555.5 434.9 Q579.6 435.1 603.8 434.9" stroke="#f0ece6" stroke-width="1.2" opacity="0.72" fill="none"/>
<path d="M561.2 438.9 Q584.8 439.3 608.5 438.9" stroke="#f0ece6" stroke-width="1.2" opacity="0.91" fill="none"/>
<rect x="89.5" y="444.5" width="25.0" height="22.0" fill="#c2c0bf"/>
<path d="M89.5 446.3 Q102.0 446.7 114.5 446.3" stroke="#f0ece6" stroke-width="1.8" opacity="0.72" fill="none"/>
<path d="M89.5 450.3 Q102.0 450.5 114.5 450.3" stroke="#f0ece6" stroke-width="1.8" opacity="0.67" fill="none"/>
<path d="M89.5 454.3 Q102.0 453.7 114.5 454.3" stroke="#f0ece6" stroke-width="1.0" opacity="0.94" fill="none"/>
<path d="M89.5 456.5 Q97.5 456.6 105.6 456.5" stroke="#8e8c8c" stroke-width="1.5" opacity="0.33" fill="none"/>
<path d="M89.5 459.7 Q102.0 460.2 114.5 459.7" stroke="#f0ece6" stroke-width="1.8" opacity="0.96" fill="none"/>
<path d="M89.5 463.6 Q102.0 464.1 114.5 463.6" stroke="#f0ece6" stroke-width="1.5" opacity="0.92" fill="none"/>
<rect x="117.5" y="444.5" width="59.0" height="22.0" fill="#c4c1be"/>
<path d="M117.5 445.6 Q134.6 445.3 151.7 445.6" stroke="#8e8c8c" stroke-width="1.8" opacity="0.17" fill="none"/>
<path d="M117.5 449.2 Q147.0 450.3 176.5 449.2" stroke="#f0ece6" stroke-width="1.8" opacity="0.72" fill="none"/>
<path d="M117.5 452.5 Q147.0 453.6 176.5 452.5" stroke="#8e8c8c" stroke-width="1.5" opacity="0.16" fill="none"/>
<path d="M141.6 455.4 Q159.0 456.3 176.5 455.4" stroke="#f0ece6" stroke-width="1.2" opacity="0.81" fill="none"/>
<path d="M117.5 459.0 Q146.4 459.8 175.3 459.0" stroke="#f0ece6" stroke-width="1.2" opacity="0.86" fill="none"/>
<path d="M117.5 462.4 Q147.0 462.4 176.5 462.4" stroke="#f0ece6" stroke-width="1.2" opacity="0.96" fill="none"/>
<path d="M131.3 465.5 Q146.1 464.7 160.9 465.5" stroke="#f0ece6" stroke-width="1.0" opacity="0.78" fill="none"/>
<rect x="179.5" y="444.5" width="56.0" height="22.0" fill="#c8c5c1"/>
<path d="M179.5 445.8 Q207.5 444.9 235.5 445.8" stroke="#f0ece6" stroke-width="1.0" opacity="0.71" fill="none"/>
<path d="M179.5 448.0 Q207.5 448.9 235.5 448.0" stroke="#8e8c8c" stroke-width="1.0" opacity="0.29" fill="none"/>
<path d="M195.2 451.7 Q215.4 450.9 235.5 451.7" stroke="#8e8c8c" stroke-width="1.0" opacity="0.22" fill="none"/>
<path d="M197.0 455.5 Q216.3 455.0 235.5 455.5" stroke="#f0ece6" stroke-width="1.5" opacity="0.95" fill="none"/>
<path d="M186.0 459.1 Q205.6 458.5 225.2 459.1" stroke="#f0ece6" stroke-width="1.2" opacity="0.74" fill="none"/>
<path d="M179.5 461.6 Q202.9 461.0 226.3 461.6" stroke="#8e8c8c" stroke-width="1.0" opacity="0.29" fill="none"/>
<path d="M179.5 464.8 Q205.9 464.3 232.2 464.8" stroke="#f0ece6" stroke-width="1.0" opacity="0.96" fill="none"/>
<rect x="238.5" y="444.5" width="325.0" height="22.0" fill="#cbc7c3"/>
<path d="M268.3 445.7 Q415.9 445.8 563.5 445.7" stroke="#8e8c8c" stroke-width="1.2" opacity="0.21" fill="none"/>
<path d="M238.5 448.9 Q401.0 449.3 563.5 448.9" stroke="#8e8c8c" stroke-width="1.5" opacity="0.16" fill="none"/>
<path d="M242.8 452.0 Q403.2 452.5 563.5 452.0" stroke="#f0ece6" stroke-width="1.5" opacity="0.77" fill="none"/>
<path d="M238.5 455.0 Q401.0 456.0 563.5 455.0" stroke="#f0ece6" stroke-width="1.0" opacity="1.00" fill="none"/>
<path d="M238.5 457.7 Q401.0 458.2 563.5 457.7" stroke="#8e8c8c" stroke-width="1.2" opacity="0.39" fill="none"/>
<path d="M360.2 461.6 Q461.8 461.4 563.5 461.6" stroke="#f0ece6" stroke-width="1.2" opacity="0.79" fill="none"/>
<path d="M238.5 465.2 Q401.0 465.5 563.5 465.2" stroke="#f0ece6" stroke-width="1.2" opacity="0.73" fill="none"/>
<rect x="566.5" y="444.5" width="42.0" height="22.0" fill="#c4c1be"/>
<path d="M566.5 445.7 Q587.5 446.5 608.5 445.7" stroke="#8e8c8c" stroke-width="1.0" opacity="0.35" fill="none"/>
<path d="M572.6 448.0 Q589.6 447.9 606.7 448.0" stroke="#f0ece6" stroke-width="1.0" opacity="0.97" fill="none"/>
<path d="M566.5 451.3 Q587.5 452.5 608.5 451.3" stroke="#f0ece6" stroke-width="1.2" opacity="0.91" fill="none"/>
<path d="M566.5 455.3 Q587.5 454.5 608.5 455.3" stroke="#f0ece6" stroke-width="1.2" opacity="0.96" fill="none"/>
<path d="M566.5 458.3 Q587.5 459.2 608.5 458.3" stroke="#8e8c8c" stroke-width="1.5" opacity="0.29" fill="none"/>
<path d="M566.5 461.3 Q587.3 461.5 608.1 461.3" stroke="#f0ece6" stroke-width="1.8" opacity="0.87" fill="none"/>
<path d="M566.5 465.0 Q587.5 463.8 608.5 465.0" stroke="#f0ece6" stroke-width="1.0" opacity="0.70" fill="none"/>
<rect x="89.5" y="469.5" width="59.0" height="29.0" fill="#d2cec9"/>
<path d="M89.5 470.8 Q119.0 471.5 148.5 470.8" stroke="#8e8c8c" stroke-width="1.0" opacity="0.32" fill="none"/>
<path d="M89.5 473.9 Q119.0 474.5 148.5 473.9" stroke="#f0ece6" stroke-width="1.5" opacity="0.84" fill="none"/>
<path d="M89.5 476.6 Q116.1 475.8 142.7 476.6" stroke="#f0ece6" stroke-width="1.2" opacity="0.82" fill="none"/>
<path d="M89.5 479.4 Q107.8 480.4 126.1 479.4" stroke="#8e8c8c" stroke-width="1.2" opacity="0.27" fill="none"/>
<path d="M89.5 482.8 Q119.0 482.0 148.5 482.8" stroke="#8e8c8c" stroke-width="1.0" opacity="0.18" fill="none"/>
<path d="M89.5 486.0 Q112.3 485.1 135.1 486.0" stroke="#f0ece6" stroke-width="1.5" opacity="0.86" fill="none"/>
<path d="M89.5 488.8 Q119.0 489.5 148.5 488.8" stroke="#f0ece6" stroke-width="1.2" opacity="0.97" fill="none"/>
<path d="M89.5 492.3 Q119.0 492.2 148.5 492.3" stroke="#f0ece6" stroke-width="1.0" opacity="0.77" fill="none"/>
<path d="M102.6 495.3 Q125.5 495.5 148.5 495.3" stroke="#8e8c8c" stroke-width="1.8" opacity="0.36" fill="none"/>
<rect x="151.5" y="469.5" width="99.0" height="29.0" fill="#d2cec9"/>
<path d="M151.5 470.9 Q201.0 471.4 250.5 470.9" stroke="#f0ece6" stroke-width="1.5" opacity="0.77" fill="none"/>
<path d="M151.5 474.7 Q180.6 474.3 209.8 474.7" stroke="#f0ece6" stroke-width="1.5" opacity="0.74" fill="none"/>
<path d="M151.5 478.1 Q201.0 478.0 250.5 478.1" stroke="#f0ece6" stroke-width="1.8" opacity="0.94" fill="none"/>
<path d="M151.5 482.5 Q176.5 482.9 201.6 482.5" stroke="#f0ece6" stroke-width="1.5" opacity="0.68" fill="none"/>
<path d="M151.5 486.0 Q201.0 486.7 250.5 486.0" stroke="#f0ece6" stroke-width="1.2" opacity="0.68" fill="none"/>
<path d="M151.5 489.5 Q201.0 490.1 250.5 489.5" stroke="#8e8c8c" stroke-width="1.5" opacity="0.40" fill="none"/>
<path d="M198.3 492.3 Q224.4 492.5 250.5 492.3" stroke="#f0ece6" stroke-width="1.5" opacity="0.87" fill="none"/>
<path d="M151.5 495.9 Q201.0 494.7 250.5 495.9" stroke="#8e8c8c" stroke-width="1.0" opacity="0.18" fill="none"/>
<rect x="89.5" y="501.5" width="29.0" height="22.0" fill="#d2cec9"/>
<path d="M89.5 503.4 Q100.9 502.4 112.4 503.4" stroke="#f0ece6" stroke-width="1.8" opacity="0.66" fill="none"/>
<path d="M93.4 507.3 Q103.4 506.4 113.5 507.3" stroke="#f0ece6" stroke-width="1.2" opacity="0.84" fill="none"/>
<path d="M89.5 509.9 Q104.0 510.6 118.5 509.9" stroke="#f0ece6" stroke-width="1.8" opacity="0.72" fill="none"/>
<path d="M89.5 513.4 Q104.0 514.1 118.5 513.4" stroke="#f0ece6" stroke-width="1.5" opacity="0.85" fill="none"/>
<path d="M91.0 516.5 Q104.7 517.3 118.5 516.5" stroke="#f0ece6" stroke-width="1.8" opacity="0.83" fill="none"/>
<path d="M89.5 519.5 Q104.0 520.3 118.5 519.5" stroke="#f0ece6" stroke-width="1.2" opacity="0.75" fill="none"/>
<path d="M89.5 522.2 Q104.0 523.4 118.5 522.2" stroke="#f0ece6" stroke-width="1.2" opacity="0.66" fill="none"/>
<rect x="121.5" y="501.5" width="77.0" height="22.0" fill="#d2cec9"/>
<path d="M129.6 502.6 Q145.6 501.7 161.5 502.6" stroke="#f0ece6" stroke-width="1.2" opacity="0.98" fill="none"/>
<path d="M121.5 506.6 Q152.0 507.4 182.6 506.6" stroke="#8e8c8c" stroke-width="1.8" opacity="0.30" fill="none"/>
<path d="M147.7 510.5 Q173.1 511.3 198.5 510.5" stroke="#f0ece6" stroke-width="1.0" opacity="0.75" fill="none"/>
<path d="M121.5 513.6 Q159.5 513.1 197.4 513.6" stroke="#f0ece6" stroke-width="1.5" opacity="0.91" fill="none"/>
<path d="M121.5 516.9 Q160.0 518.0 198.5 516.9" stroke="#f0ece6" stroke-width="1.8" opacity="0.74" fill="none"/>
<path d="M137.0 521.2 Q167.8 521.5 198.5 521.2" stroke="#f0ece6" stroke-width="1.5" opacity="0.83" fill="none"/>
<rect x="201.5" y="501.5" width="49.0" height="22.0" fill="#d2cec9"/>
<path d="M210.9 502.3 Q230.7 502.2 250.5 502.3" stroke="#f0ece6" stroke-width="1.2" opacity="0.87" fill="none"/>
<path d="M201.5 506.1 Q226.0 506.3 250.5 506.1" stroke="#f0ece6" stroke-width="1.8" opacity="0.85" fill="none"/>
<path d="M207.7 510.0 Q229.1 510.2 250.5 510.0" stroke="#f0ece6" stroke-width="1.2" opacity="0.99" fill="none"/>
<path d="M209.2 512.7 Q229.8 512.9 250.5 512.7" stroke="#f0ece6" stroke-width="1.0" opacity="0.84" fill="none"/>
<path d="M201.5 515.0 Q226.0 516.1 250.5 515.0" stroke="#f0ece6" stroke-width="1.0" opacity="0.98" fill="none"/>
<path d="M220.9 517.5 Q235.7 517.8 250.5 517.5" stroke="#f0ece6" stroke-width="1.0" opacity="0.70" fill="none"/>
<path d="M224.1 519.9 Q237.3 520.4 250.5 519.9" stroke="#f0ece6" stroke-width="1.5" opacity="0.96" fill="none"/>
<rect x="89.5" y="526.5" width="79.0" height="20.0" fill="#d2cec9"/>
<path d="M89.5 527.5 Q120.8 528.1 152.1 527.5" stroke="#f0ece6" stroke-width="1.0" opacity="0.71" fill="none"/>
<path d="M89.5 530.0 Q123.9 529.4 158.3 530.0" stroke="#f0ece6" stroke-width="1.5" opacity="0.91" fill="none"/>
<path d="M100.7 533.1 Q134.6 531.9 168.5 533.1" stroke="#f0ece6" stroke-width="1.0" opacity="0.85" fill="none"/>
<path d="M89.5 535.3 Q129.0 535.9 168.5 535.3" stroke="#f0ece6" stroke-width="1.0" opacity="0.74" fill="none"/>
<path d="M89.5 538.1 Q129.0 537.3 168.5 538.1" stroke="#f0ece6" stroke-width="1.2" opacity="0.84" fill="none"/>
<path d="M89.5 540.7 Q129.0 540.7 168.5 540.7" stroke="#f0ece6" stroke-width="1.8" opacity="0.82" fill="none"/>
<path d="M89.5 543.8 Q129.0 543.9 168.5 543.8" stroke="#f0ece6" stroke-width="1.0" opacity="0.94" fill="none"/>
<rect x="171.5" y="526.5" width="79.0" height="20.0" fill="#d2cec9"/>
<path d="M171.5 527.4 Q211.0 527.4 250.5 527.4" stroke="#f0ece6" stroke-width="1.2" opacity="0.65" fill="none"/>
<path d="M171.5 530.3 Q197.8 530.8 224.2 530.3" stroke="#8e8c8c" stroke-width="1.5" opacity="0.30" fill="none"/>
<path d="M171.5 533.8 Q211.0 533.0 250.5 533.8" stroke="#f0ece6" stroke-width="1.2" opacity="0.84" fill="none"/>
<path d="M171.5 536.5 Q211.0 537.5 250.5 536.5" stroke="#f0ece6" stroke-width="1.2" opacity="0.66" fill="none"/>
<path d="M182.3 540.2 Q216.4 540.4 250.5 540.2" stroke="#f0ece6" stroke-width="1.0" opacity="0.92" fill="none"/>
<path d="M171.5 542.7 Q211.0 543.7 250.5 542.7" stroke="#f0ece6" stroke-width="1.8" opacity="0.75" fill="none"/>
<rect x="427.5" y="471.5" width="114.0" height="76.0" fill="#c2c0bf"/>
<path d="M427.5 472.0 Q458.7 472.0 490.0 472.0" stroke="#f0ece6" stroke-width="1.2" opacity="0.88" fill="none"/>
<path d="M427.5 474.5 Q484.5 475.0 541.5 474.5" stroke="#8e8c8c" stroke-width="1.5" opacity="0.26" fill="none"/>
<path d="M466.8 478.0 Q504.1 479.1 541.5 478.0" stroke="#8e8c8c" stroke-width="1.0" opacity="0.31" fill="none"/>
<path d="M427.5 481.7 Q484.5 482.7 541.5 481.7" stroke="#f0ece6" stroke-width="1.0" opacity="0.98" fill="none"/>
<path d="M427.5 485.0 Q484.5 484.8 541.5 485.0" stroke="#f0ece6" stroke-width="1.0" opacity="0.69" fill="none"/>
<path d="M427.5 488.2 Q484.5 488.5 541.5 488.2" stroke="#8e8c8c" stroke-width="1.8" opacity="0.18" fill="none"/>
<path d="M471.8 491.3 Q506.7 491.0 541.5 491.3" stroke="#f0ece6" stroke-width="1.2" opacity="0.84" fill="none"/>
<path d="M427.5 495.0 Q470.1 494.1 512.7 495.0" stroke="#f0ece6" stroke-width="1.8" opacity="0.68" fill="none"/>
<path d="M427.5 499.5 Q482.6 499.8 537.8 499.5" stroke="#f0ece6" stroke-width="1.5" opacity="0.73" fill="none"/>
<path d="M427.5 502.2 Q484.5 503.0 541.5 502.2" stroke="#f0ece6" stroke-width="1.0" opacity="0.91" fill="none"/>
<path d="M427.5 504.4 Q484.5 504.7 541.5 504.4" stroke="#f0ece6" stroke-width="1.0" opacity="0.79" fill="none"/>
<path d="M427.5 507.4 Q484.5 507.1 541.5 507.4" stroke="#f0ece6" stroke-width="1.8" opacity="0.89" fill="none"/>
<path d="M427.5 511.2 Q484.5 511.0 541.5 511.2" stroke="#f0ece6" stroke-width="1.5" opacity="0.76" fill="none"/>
<path d="M427.5 515.3 Q484.5 514.4 541.5 515.3" stroke="#f0ece6" stroke-width="1.5" opacity="0.66" fill="none"/>
<path d="M478.5 519.5 Q501.0 518.4 523.5 519.5" stroke="#f0ece6" stroke-width="1.8" opacity="0.94" fill="none"/>
<path d="M428.5 524.0 Q485.0 524.3 541.5 524.0" stroke="#f0ece6" stroke-width="1.8" opacity="0.95" fill="none"/>
<path d="M427.5 527.6 Q484.5 528.5 541.5 527.6" stroke="#f0ece6" stroke-width="1.0" opacity="0.90" fill="none"/>
<path d="M427.5 530.0 Q484.5 531.0 541.5 530.0" stroke="#f0ece6" stroke-width="1.5" opacity="0.66" fill="none"/>
<path d="M458.6 533.0 Q500.0 532.6 541.5 533.0" stroke="#f0ece6" stroke-width="1.8" opacity="0.97" fill="none"/>
<path d="M427.5 537.6 Q484.5 538.4 541.5 537.6" stroke="#f0ece6" stroke-width="1.0" opacity="0.95" fill="none"/>
<path d="M432.2 539.9 Q486.9 540.5 541.5 539.9" stroke="#f0ece6" stroke-width="1.0" opacity="0.93" fill="none"/>
<path d="M466.1 543.7 Q503.3 543.7 540.5 543.7" stroke="#f0ece6" stroke-width="1.8" opacity="0.81" fill="none"/>
<rect x="544.5" y="471.5" width="64.0" height="76.0" fill="#c8c5c1"/>
<path d="M544.5 473.4 Q575.2 473.9 605.9 473.4" stroke="#f0ece6" stroke-width="1.0" opacity="0.80" fill="none"/>
<path d="M544.5 477.0 Q574.6 476.2 604.8 477.0" stroke="#f0ece6" stroke-width="1.2" opacity="0.92" fill="none"/>
<path d="M546.8 480.8 Q577.7 480.2 608.5 480.8" stroke="#f0ece6" stroke-width="1.0" opacity="0.83" fill="none"/>
<path d="M574.9 483.3 Q589.7 482.8 604.5 483.3" stroke="#f0ece6" stroke-width="1.0" opacity="0.67" fill="none"/>
<path d="M544.5 486.0 Q568.5 486.5 592.4 486.0" stroke="#8e8c8c" stroke-width="1.8" opacity="0.29" fill="none"/>
<path d="M554.9 489.6 Q577.6 489.2 600.4 489.6" stroke="#f0ece6" stroke-width="1.5" opacity="0.77" fill="none"/>
<path d="M544.5 492.6 Q576.5 492.3 608.5 492.6" stroke="#8e8c8c" stroke-width="1.5" opacity="0.28" fill="none"/>
<path d="M544.5 496.1 Q565.1 496.4 585.7 496.1" stroke="#f0ece6" stroke-width="1.5" opacity="0.88" fill="none"/>
<path d="M544.5 499.6 Q576.5 499.6 608.5 499.6" stroke="#f0ece6" stroke-width="1.8" opacity="0.73" fill="none"/>
<path d="M544.5 502.7 Q576.5 502.0 608.5 502.7" stroke="#f0ece6" stroke-width="1.5" opacity="0.88" fill="none"/>
<path d="M561.0 507.0 Q584.8 507.0 608.5 507.0" stroke="#f0ece6" stroke-width="1.2" opacity="0.71" fill="none"/>
<path d="M544.5 509.7 Q576.5 509.9 608.5 509.7" stroke="#f0ece6" stroke-width="1.2" opacity="0.81" fill="none"/>
<path d="M573.6 513.5 Q586.9 513.0 600.3 513.5" stroke="#f0ece6" stroke-width="1.2" opacity="0.76" fill="none"/>
<path d="M544.5 516.2 Q576.5 516.7 608.5 516.2" stroke="#f0ece6" stroke-width="1.0" opacity="0.87" fill="none"/>
<path d="M567.4 518.9 Q587.9 518.7 608.5 518.9" stroke="#f0ece6" stroke-width="1.0" opacity="0.76" fill="none"/>
<path d="M544.5 521.7 Q563.7 520.5 583.0 521.7" stroke="#8e8c8c" stroke-width="1.8" opacity="0.26" fill="none"/>
<path d="M575.1 524.8 Q591.8 524.5 608.5 524.8" stroke="#f0ece6" stroke-width="1.2" opacity="0.96" fill="none"/>
<path d="M544.5 527.8 Q576.5 528.3 608.5 527.8" stroke="#f0ece6" stroke-width="1.2" opacity="0.73" fill="none"/>
<path d="M566.7 530.2 Q584.2 530.4 601.7 530.2" stroke="#f0ece6" stroke-width="1.5" opacity="0.77" fill="none"/>
<path d="M568.8 534.1 Q588.7 533.4 608.5 534.1" stroke="#f0ece6" stroke-width="1.5" opacity="0.97" fill="none"/>
<path d="M544.5 538.3 Q576.5 538.1 608.5 538.3" stroke="#f0ece6" stroke-width="1.0" opacity="0.93" fill="none"/>
<path d="M571.8 540.7 Q585.1 541.5 598.3 540.7" stroke="#f0ece6" stroke-width="1.2" opacity="0.85" fill="none"/>
<path d="M567.1 543.8 Q587.8 542.6 608.5 543.8" stroke="#f0ece6" stroke-width="1.2" opacity="0.93" fill="none"/>
<rect x="237" y="315.5" width="70" height="2.5" fill="#eee9e2"/>
<rect x="377" y="425" width="86" height="2.5" fill="#eee9e2"/>
<rect x="16" y="299" width="40" height="2.5" fill="#eee9e2"/>


</g>

<!-- ===== WALLS ===== -->
<g id="walls" fill="#1e1a1a">
  <!-- slide top wall -->
  <rect x="49" y="102" width="536" height="7"/>
  <!-- slide left wall -->
  <rect x="49" y="102" width="7" height="124"/>
  <!-- step -->
  <rect x="10" y="220" width="46" height="6"/>
  <!-- main left wall -->
  <rect x="10" y="220" width="6" height="335"/>
  <!-- bottom wall -->
  <rect x="10" y="548" width="600" height="7"/>
  <!-- slide right wall -->
  <rect x="579" y="102" width="6" height="121"/>
</g>
<!-- windows -->
<rect x="86" y="105" width="127" height="2.5" rx="1" fill="#fff"/>
<rect x="374" y="104.5" width="181" height="2.5" rx="1" fill="#fff"/>
<rect x="50.5" y="144" width="4" height="49" rx="1" fill="#fff"/>
<rect x="581" y="133" width="3" height="65" rx="1" fill="#fff"/>

<!-- ===== BED ===== -->
<path d="M56 109 H237 V361 Q237 373 225 373 H68 Q56 373 56 361 Z" fill="#9c9589" stroke="#1e1a1a" stroke-width="2.5"/>
<!-- white box left of bed -->
<rect x="16" y="226" width="43" height="53" fill="#fff" stroke="#1e1a1a" stroke-width="3"/>

<!-- ===== STORAGE / WARD / PANTRY ===== -->
<g stroke="#1e1a1a" stroke-width="2.5" fill="#fff">
  <rect x="239" y="109" width="108" height="47"/>
  <rect x="239" y="156" width="72" height="78"/>
  <rect x="311" y="150" width="36" height="84"/>
</g>

<!-- ===== DINETTE ===== -->
<g stroke="#1e1a1a" stroke-width="2.5">
  <rect x="354" y="240" width="224" height="19" fill="#c9c9cc"/>
  <path d="M348 109 H422 V246 H356 Q348 246 348 238 Z" fill="#9c9589"/>
  <path d="M361 150 Q361 122.6 389 122.6 H422 V256.5 H398 C376 256.5 361 240 361 218 Z" fill="#9c9589"/>
  <path d="M508 109 H580 V238 Q580 246 572 246 H508 Z" fill="#9c9589"/>
  <path d="M569 150 Q569 122.6 541 122.6 H508 V256.5 H532 C554 256.5 569 240 569 218 Z" fill="#9c9589"/>
  <path d="M425 116 H505 Q509 116 509 120 V236 Q506 256 465 261 Q424 256 421 236 V120 Q421 116 425 116 Z" fill="#fff"/>
  <rect x="423.3" y="108.5" width="82.7" height="7" fill="#fff" stroke-width="2"/>
</g>
<g id="belts">
  <g stroke="#1e1a1a" stroke-width="2" fill="#cdc9c1">
    <rect x="361" y="166.5" width="18.5" height="6.8" rx="1.5"/>
    <path d="M379.5 165.5 H384 Q389 165.5 389 170 Q389 174.5 384 174.5 H379.5 Z"/>
    <rect x="361" y="205.5" width="18.5" height="6.8" rx="1.5"/>
    <path d="M379.5 204.8 H388.5 V213 H379.5 Z"/>
  </g>
</g>
<use href="#belts" transform="matrix(-1 0 0 1 929.6 0)"/>
<!-- dinette top wall refine -->
<rect x="348" y="101.4" width="237" height="7" fill="#1e1a1a"/>
<rect x="374" y="103.6" width="181" height="2.6" rx="1" fill="#fff"/>

<!-- ===== BATH ===== -->
<rect x="16" y="419" width="166" height="7" fill="#1e1a1a"/>
<rect x="102" y="408" width="79" height="18" fill="#1e1a1a"/>
<rect x="16" y="426" width="72" height="122" fill="#fff" stroke="#1e1a1a" stroke-width="2"/>
<rect x="22" y="433" width="60" height="100" rx="6" fill="#fff" stroke="#1e1a1a" stroke-width="2.5"/>
<line x1="16" y1="538.5" x2="90" y2="538.5" stroke="#1e1a1a" stroke-width="2.5"/>
<circle cx="54" cy="445" r="4.2" fill="#1e1a1a"/><circle cx="54.5" cy="444.5" r="1.2" fill="#fff"/>
<!-- door -->
<line x1="182" y1="422" x2="242" y2="390.5" stroke="#1e1a1a" stroke-width="6.5" stroke-linecap="round"/>
<line x1="182" y1="425" x2="252" y2="461" stroke="#1e1a1a" stroke-width="2"/>
<!-- toilet base + sink vanity -->
<path d="M143.7 548 L167.2 520.4 H196 L222 485 L247.4 464.2 H252 V548 Z" fill="#fff"/>
<path d="M143.7 548 L167.2 520.4 H196" fill="none" stroke="#1e1a1a" stroke-width="2"/>
<path d="M200 548 V520" fill="none" stroke="#1e1a1a" stroke-width="1.5"/>
<path d="M222 485 L247.4 464.2" fill="none" stroke="#1e1a1a" stroke-width="2"/>
<path d="M151.5 527 H200.4 L249.4 466.2" fill="none" stroke="#1e1a1a" stroke-width="2.2" stroke-dasharray="5 4"/>
<line x1="93.8" y1="509" x2="99.7" y2="513" stroke="#1e1a1a" stroke-width="2"/>
<!-- toilet -->
<path d="M-26 -6 C-26 -46 26 -46 26 -6 C26 20 10 34 0 34 C-10 34 -26 20 -26 -6 Z" transform="translate(133 508) rotate(24)" fill="#fff" stroke="#1e1a1a" stroke-width="2.5"/>
<!-- sink -->
<circle cx="222" cy="515.1" r="24.5" fill="#d5d2cb" stroke="#1e1a1a" stroke-width="3.2"/>
<circle cx="222" cy="515.1" r="20.5" fill="none" stroke="#1e1a1a" stroke-width="1.2"/>
<path d="M200.4 527 L249.4 466.2" fill="none" stroke="#1e1a1a" stroke-width="2.2" stroke-dasharray="5 4"/>
<line x1="222" y1="516" x2="243.5" y2="539.6" stroke="#1e1a1a" stroke-width="3.5"/>
<circle cx="243.5" cy="539.6" r="3" fill="#1e1a1a"/>
<circle cx="222" cy="516" r="3" fill="#fff" stroke="#1e1a1a" stroke-width="2"/>
<rect x="250" y="460" width="13" height="95" fill="#1e1a1a"/>

<!-- ===== GALLEY ===== -->
<rect x="263" y="466" width="86" height="84" fill="#1e1a1a"/>
<rect x="265" y="466" width="78.6" height="37.6" fill="#fff"/>
<rect x="265" y="510" width="78.6" height="38" fill="#fff"/>
<line x1="264" y1="464.6" x2="344" y2="464.6" stroke="#1e1a1a" stroke-width="2.6" stroke-dasharray="6 4"/>
<rect x="349" y="463.5" width="70" height="85" fill="#fff"/>
<rect x="349.4" y="463.8" width="68.2" height="63.7" fill="#c3c3c3" stroke="#1e1a1a" stroke-width="2"/>
<path d="M353.3 463.3 V455 Q353.3 450 359 450 H407.5 Q413.1 450 413.1 455 V463.3 Z" fill="#bdbdbd" stroke="#1e1a1a" stroke-width="2"/>
<rect x="372.7" y="451.5" width="6.5" height="8" fill="#1e1a1a"/>
<rect x="380.5" y="451.5" width="6.5" height="8" fill="#1e1a1a"/>
<rect x="388.5" y="451.5" width="6.5" height="8" fill="#1e1a1a"/>
<rect x="396.5" y="451.5" width="6.5" height="8" fill="#1e1a1a"/>
<rect x="354" y="459.5" width="58" height="3" fill="#cfcfcf"/>
<rect x="355.5" y="464.4" width="55.4" height="51.5" fill="#1e1a1a"/>
<rect x="356.7" y="466.0" width="16.9" height="2" fill="#d4d4d4" opacity="0.55"/>
<rect x="375.8" y="466.0" width="15.6" height="2" fill="#d4d4d4" opacity="0.55"/>
<rect x="392.9" y="466.0" width="16.3" height="2" fill="#d4d4d4" opacity="0.55"/>
<rect x="356.7" y="470.4" width="16.9" height="2" fill="#d4d4d4" opacity="1"/>
<rect x="375.8" y="470.4" width="15.6" height="2" fill="#d4d4d4" opacity="1"/>
<rect x="392.9" y="470.4" width="16.3" height="2" fill="#d4d4d4" opacity="1"/>
<rect x="356.7" y="475.4" width="16.9" height="2" fill="#d4d4d4" opacity="1"/>
<rect x="375.8" y="475.4" width="15.6" height="2" fill="#d4d4d4" opacity="1"/>
<rect x="392.9" y="475.4" width="16.3" height="2" fill="#d4d4d4" opacity="1"/>
<rect x="356.7" y="480.1" width="16.9" height="2" fill="#d4d4d4" opacity="1"/>
<rect x="375.8" y="480.1" width="15.6" height="2" fill="#d4d4d4" opacity="1"/>
<rect x="392.9" y="480.1" width="16.3" height="2" fill="#d4d4d4" opacity="1"/>
<rect x="356.7" y="485.0" width="16.9" height="2" fill="#d4d4d4" opacity="1"/>
<rect x="375.8" y="485.0" width="15.6" height="2" fill="#d4d4d4" opacity="1"/>
<rect x="392.9" y="485.0" width="16.3" height="2" fill="#d4d4d4" opacity="1"/>
<rect x="360.9" y="490.3" width="5.1" height="2.2" fill="#d8d8d8"/>
<rect x="379.7" y="490.3" width="4.7" height="2.2" fill="#d8d8d8"/>
<rect x="397.0" y="490.3" width="4.9" height="2.2" fill="#d8d8d8"/>
<rect x="356.7" y="495.0" width="16.9" height="2" fill="#d4d4d4" opacity="1"/>
<rect x="375.8" y="495.0" width="15.6" height="2" fill="#d4d4d4" opacity="1"/>
<rect x="392.9" y="495.0" width="16.3" height="2" fill="#d4d4d4" opacity="1"/>
<rect x="356.7" y="500.1" width="16.9" height="2" fill="#d4d4d4" opacity="1"/>
<rect x="375.8" y="500.1" width="15.6" height="2" fill="#d4d4d4" opacity="1"/>
<rect x="392.9" y="500.1" width="16.3" height="2" fill="#d4d4d4" opacity="1"/>
<rect x="356.7" y="505.0" width="16.9" height="2" fill="#d4d4d4" opacity="1"/>
<rect x="375.8" y="505.0" width="15.6" height="2" fill="#d4d4d4" opacity="1"/>
<rect x="392.9" y="505.0" width="16.3" height="2" fill="#d4d4d4" opacity="1"/>
<rect x="356.7" y="510.0" width="16.9" height="2" fill="#d4d4d4" opacity="1"/>
<rect x="375.8" y="510.0" width="15.6" height="2" fill="#d4d4d4" opacity="1"/>
<rect x="392.9" y="510.0" width="16.3" height="2" fill="#d4d4d4" opacity="1"/>
<circle cx="383.2" cy="479.3" r="5.5" fill="#1e1a1a"/>
<circle cx="383.2" cy="479.3" r="3.5" fill="none" stroke="#9a9a9a" stroke-width="1.5"/>
<circle cx="367.7" cy="502" r="6" fill="#1e1a1a"/>
<circle cx="367.7" cy="502" r="4" fill="none" stroke="#9a9a9a" stroke-width="1.5"/>
<circle cx="397.6" cy="502" r="6" fill="#1e1a1a"/>
<circle cx="397.6" cy="502" r="4" fill="none" stroke="#9a9a9a" stroke-width="1.5"/>
<rect x="355.5" y="516" width="55.4" height="2" fill="#bdbdbd"/>
<rect x="358.5" y="518" width="11" height="5.5" fill="#1e1a1a"/>
<rect x="371.5" y="518" width="11" height="5.5" fill="#1e1a1a"/>
<rect x="384.5" y="518" width="11" height="5.5" fill="#1e1a1a"/>
<rect x="397.5" y="518" width="11" height="5.5" fill="#1e1a1a"/>

<rect x="419" y="462" width="7" height="88" fill="#1e1a1a"/>
<path d="M426 466 H492 Q496 466 496 470 V549 H426 Z" fill="#fff" stroke="#1e1a1a" stroke-width="2.2"/>
<path d="M436.5 526 A28 28 0 1 1 479.5 526" fill="none" stroke="#1e1a1a" stroke-width="4"/>
<line x1="426" y1="491.4" x2="496" y2="491.4" stroke="#1e1a1a" stroke-width="2" stroke-dasharray="5 4"/>
<circle cx="458" cy="504.6" r="3.5" fill="none" stroke="#1e1a1a" stroke-width="2.5"/>
<rect x="501.3" y="477" width="87.2" height="72" fill="#fff" stroke="#1e1a1a" stroke-width="2.2"/>
<line x1="501.3" y1="513.5" x2="588.5" y2="513.5" stroke="#1e1a1a" stroke-width="2"/>
<line x1="501.3" y1="524" x2="596" y2="524" stroke="#1e1a1a" stroke-width="2" stroke-dasharray="5 4"/>
<line x1="593" y1="518.7" x2="593" y2="549" stroke="#1e1a1a" stroke-width="2.5"/>
<line x1="598" y1="549" x2="611" y2="524.5" stroke="#1e1a1a" stroke-width="2"/>
<rect x="433" y="549" width="53" height="3.5" fill="#d5d5d5" stroke="#1e1a1a" stroke-width="0.8"/>
<rect x="505" y="549" width="80" height="3.5" fill="#d5d5d5" stroke="#1e1a1a" stroke-width="0.8"/>

<!-- awning strip -->
<rect x="23" y="555" width="578" height="15.5" fill="#c8c8c8" stroke="#2a2a2a" stroke-width="2"/>
<path d="M508 571 V578 Q508 583 514 583 H575 Q581 583 581 578 V571" fill="#fff" stroke="#1e1a1a" stroke-width="2"/>

<!-- ===== CAB ===== -->
<defs>
  <linearGradient id="ws" x1="0" x2="1" y1="0" y2="0">
    <stop offset="0" stop-color="#efefef"/>
    <stop offset="0.45" stop-color="#e2e2e2"/>
    <stop offset="1" stop-color="#b8b8b8"/>
  </linearGradient>
  <g id="mirror">
    <path d="M761.5 192 Q762 186 766 186 Q770 186 770.5 191 L778.5 227 L770 229 Z" fill="#cfcfcf" stroke="#1e1a1a" stroke-width="2.2" stroke-linejoin="round"/>
    <path d="M772 229 L777 237 V251 M778.5 227 L782 237 V251 M777 237 H782" fill="none" stroke="#1e1a1a" stroke-width="2"/>
  </g>
</defs>
<path d="M608 221 H662 C695 221 718 236 728 252 V523 C718 539 695 552 662 552 H608 Z" fill="#cacacc" filter="url(#ds)"/>
<path d="M585 221 H662 C695 221 718 236 728 252" fill="none" stroke="#1e1a1a" stroke-width="3"/>
<path d="M608 552 H662 C695 552 718 539 731 523" fill="none" stroke="#1e1a1a" stroke-width="3"/>
<rect x="608" y="221" width="5" height="334" fill="#1e1a1a"/>
<path d="M599 226 L608 247 M612 221 L620 252 M612 552 L620 523" stroke="#1e1a1a" stroke-width="2" fill="none"/>
<path d="M613 252 H735 M613 523.5 H735" stroke="#1e1a1a" stroke-width="2.5" fill="none"/>
<path d="M619 252 V258 H696 M619 523.5 V519 H696" stroke="#1e1a1a" stroke-width="2.2" fill="none"/>

<!-- seats -->
<g stroke="#1e1a1a" fill="#a39b8e">
  <rect x="640.6" y="271.5" width="55" height="92" stroke-width="2"/>
  <rect x="638.8" y="281.5" width="80" height="71" rx="9" stroke-width="2.5"/>
  <rect x="640.6" y="401.4" width="55" height="92" stroke-width="2"/>
  <rect x="638.8" y="411.4" width="80" height="71" rx="9" stroke-width="2.5"/>
</g>
<g stroke="#1e1a1a" fill="none">
  <path d="M667 282 V352 M675.3 258 V519 M681.7 282 V352 M667 412 V482 M681.7 412 V482" stroke-width="1.8"/>
  <path d="M667 296 H696 M667 339.2 H696 M667 425.4 H696 M667 468.6 H696" stroke-width="1.8"/>
  <path d="M686 258 V519" stroke-width="3"/>
  <path d="M689.5 258 V519" stroke-width="1.2"/>
  <path d="M696 258 V519" stroke-width="2.2"/>
  <path d="M611 290 L686 326" stroke-width="3.6"/><path d="M612 300.4 L637 301" stroke-width="2"/>
  <path d="M665.7 316 Q674 322 676.7 334" stroke-width="2.2"/>
  <rect x="675.5" y="302" width="5.5" height="12.5" rx="2.5" stroke-width="1.8" fill="#a39b8e"/>
  <rect x="675.5" y="450" width="5.5" height="12.5" rx="2.5" stroke-width="1.8" fill="#a39b8e"/>
  <path d="M665 457 Q672 448 678 439" stroke-width="2"/>
  <path d="M612 475 L640 472" stroke-width="2"/>
</g>
<path d="M611 483 L679 451 Q684 451 684 458 L684 462 L615 495 Q610 495 610 490 Z" fill="#1e1a1a"/>
<text x="0" y="0" font-size="15" textLength="22" lengthAdjust="spacingAndGlyphs" class="lb" stroke="#231f20" stroke-width="0.5" transform="translate(633 470) rotate(-38)">TV</text>

<!-- hood -->
<path d="M729 251 H826 C868 251 900 272 902 312 V466 C900 503 868 523 826 523 H729 Z" fill="#c8c8c8" stroke="#1e1a1a" stroke-width="2.5" filter="url(#ds)"/>
<path d="M733 260 H783 Q790 260 790 268 V508 Q790 516 783 516 H733 Z" fill="url(#ws)"/>
<g stroke="#9a9a9a" fill="none" stroke-width="2">
  <ellipse cx="741" cy="317.5" rx="15" ry="30"/>
  <path d="M746 262 Q760 387 746 514 M757 262 Q770 387 757 514"/>
  <path d="M733 358.4 H790 M733 365.8 H790 M733 405 H790 M733 414 H790"/>
</g>
<path d="M729.5 252 Q748 387 729.5 523" stroke="#1e1a1a" stroke-width="2.2" fill="none"/>
<path d="M733 259.6 H781 Q787.4 260 787.4 268 M733 515 H781 Q787.4 514 787.4 506 M746 252 L749 259.6 M746 523 L749 515 M781 252 V259.6 M781 523 V515" stroke="#1e1a1a" stroke-width="1.8" fill="none"/>
<path d="M786 262 Q797 387 787 514" stroke="#1e1a1a" stroke-width="2.2" fill="none"/>
<ellipse cx="728" cy="317" rx="9" ry="31" stroke="#1e1a1a" stroke-width="3" fill="none"/>
<path d="M733 370 Q727 392 733 416" stroke="#1e1a1a" stroke-width="2" fill="none"/>
<g stroke="#1e1a1a" stroke-width="2.5" fill="none">
  <path d="M824 251 L898 305 M787 266 L899 313 M787 266 H840"/>
  <path d="M823 523 L899 470 M789 508 L899 463 M789 508 H839"/>
  <path d="M795 283.5 L808 289 L811.3 347.6 L798.3 343.3 Z"/>
  <path d="M797.5 433 L811.2 428.8 L806 486 L794.6 490.5 Z"/>
</g>
<circle cx="892.4" cy="387.8" r="4" fill="#1e1a1a"/>
<use href="#mirror"/>
<use href="#mirror" transform="matrix(1 0 0 -1 0 774)"/>

<!-- slide/cab junction -->
<rect x="580" y="102" width="5.2" height="128" fill="#1e1a1a"/>
<rect x="580" y="219.5" width="32" height="3.5" fill="#1e1a1a"/>
<rect x="580" y="223" width="18" height="7" fill="#1e1a1a"/>
<rect x="585.2" y="223" width="7" height="2.6" fill="#fff"/>
<rect x="581" y="132.5" width="2.6" height="64.5" rx="1" fill="#fff"/>
<!-- TM marks -->
<g fill="#4a4a4a" opacity="0.8"><rect x="60" y="601" width="14" height="2"/><rect x="77" y="601" width="4" height="2"/><rect x="92" y="601" width="4" height="2"/><rect x="106" y="601" width="4" height="2"/></g>
<rect x="0" y="603" width="920" height="10" fill="#fff"/>
<!-- ===== TEXT ===== -->
<text x="240.4" y="93.9" font-size="19" textLength="107" lengthAdjust="spacingAndGlyphs" class="lb">EXT. STORAGE</text>
<text x="105.7" y="229.5" font-size="27" textLength="79" lengthAdjust="spacingAndGlyphs" class="lb">QUEEN</text>
<text x="123.2" y="265" font-size="26" textLength="45.6" lengthAdjust="spacingAndGlyphs" class="lb">BED</text>
<text x="250.3" y="198.7" font-size="22.5" textLength="58" lengthAdjust="spacingAndGlyphs" class="lb">WARD</text>
<text x="0" y="0" font-size="18" textLength="70.4" lengthAdjust="spacingAndGlyphs" class="lb" transform="translate(336.9 229) rotate(-90)">PANTRY</text>
<text x="431" y="186" font-size="23.7" textLength="67.3" lengthAdjust="spacingAndGlyphs" class="lb">BOOTH</text>
<text x="425.6" y="208" font-size="23.7" textLength="79.7" lengthAdjust="spacingAndGlyphs" class="lb">DINETTE</text>
<text x="131.4" y="403" font-size="18.6" textLength="21.2" lengthAdjust="spacingAndGlyphs" class="lb">TV</text>
<text x="279.6" y="495.9" font-size="27" textLength="49" lengthAdjust="spacingAndGlyphs" class="lb">OHC</text>
<text x="269.2" y="538.4" font-size="25.3" textLength="70.5" lengthAdjust="spacingAndGlyphs" class="lb">REFER</text>
<text x="358.5" y="543.9" font-size="18" textLength="49.4" lengthAdjust="spacingAndGlyphs" class="lb" style="stroke-width:0.3">MICRO</text>
<text x="432.4" y="541.6" font-size="28.8" textLength="50.2" lengthAdjust="spacingAndGlyphs" class="lb" style="stroke-width:0.2">OHC</text>
<text x="526.4" y="543.9" font-size="19" textLength="36.6" lengthAdjust="spacingAndGlyphs" class="lb" style="stroke-width:0.2">OHC</text>
<text x="632.3" y="276.1" font-size="19" textLength="36" lengthAdjust="spacingAndGlyphs" class="lb" style="stroke-width:0.2">OHC</text>
<text x="632.3" y="512" font-size="17.5" textLength="36.2" lengthAdjust="spacingAndGlyphs" class="lb" style="stroke-width:0.2">OHC</text>
<text x="259" y="600.6" font-size="28.4" textLength="137" lengthAdjust="spacingAndGlyphs" class="lb">16’ AWNING</text>

<text x="83" y="691.4" font-size="26.5" textLength="754" lengthAdjust="spacingAndGlyphs" fill="#000" stroke="#000" stroke-width="0.35">For Illustration purposes only.&#160; Actual coach may vary from drawing.</text>
<g class="wm"><text x="3" y="762.7" textLength="50.6" lengthAdjust="spacingAndGlyphs">©2026</text><text x="58.2" y="762.7" textLength="58.6" lengthAdjust="spacingAndGlyphs">La Mesa</text><text x="124.5" y="762.7" textLength="3.5" lengthAdjust="spacingAndGlyphs">|</text><text x="134" y="762.7" textLength="52.8" lengthAdjust="spacingAndGlyphs">RecVan</text><text x="191.4" y="762.7" textLength="4.6" lengthAdjust="spacingAndGlyphs">-</text><text x="199.7" y="762.7" textLength="36.1" lengthAdjust="spacingAndGlyphs">West</text><text x="239.5" y="762.7" textLength="85.0" lengthAdjust="spacingAndGlyphs">Sacramento</text></g>
</svg>
</body></html>
